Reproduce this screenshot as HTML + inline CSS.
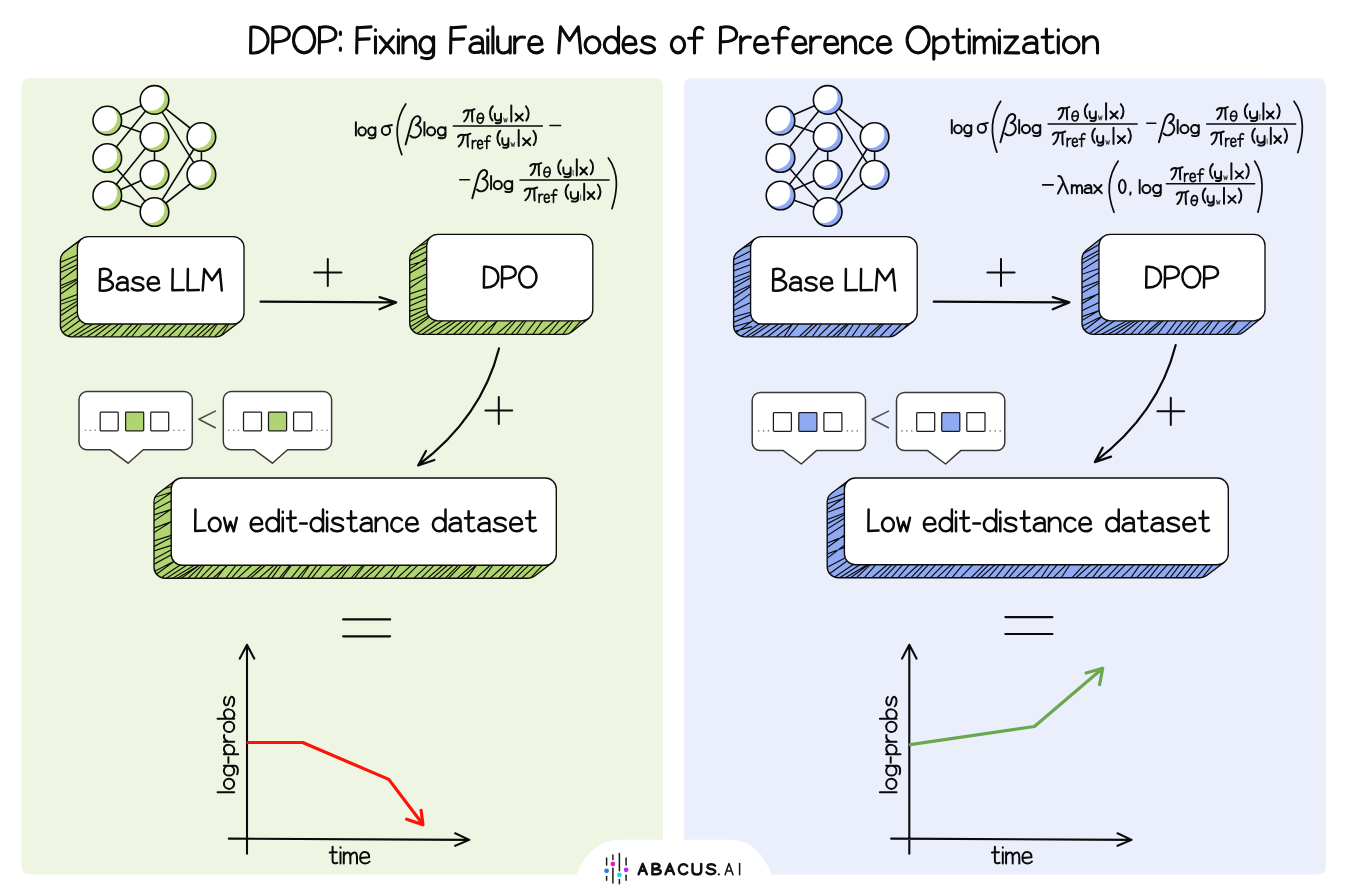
<!DOCTYPE html>
<html><head><meta charset="utf-8"><title>DPOP</title>
<style>html,body{margin:0;padding:0;background:#fff;}svg{display:block;}</style>
</head><body>
<svg width="1347" height="894" viewBox="0 0 1347 894">
<rect width="1347" height="894" fill="#fff"/>
<path d="M250.9,27.2 L250.6,52.9 M250.9,27.2 C260.8,25.9 268.1,31.6 268.1,39.9 C268.1,48.7 260.8,53.7 250.6,52.9 M272.9,27.2 L272.6,52.9 M272.9,27.7 C281.1,25.1 289.3,27.9 289.3,34.2 C289.3,39.9 281.7,42.5 273.3,41.5 M304.1,26.9 C310.0,26.9 314.7,32.7 314.7,39.9 C314.7,47.1 310.0,52.9 304.1,52.9 C298.3,52.9 293.5,47.1 293.5,39.9 C293.5,32.7 298.3,26.9 304.1,26.9 M319.6,27.2 L319.3,52.9 M319.6,27.7 C327.7,25.1 335.9,27.9 335.9,34.2 C335.9,39.9 328.3,42.5 319.9,41.5 M340.4,32.1 L340.4,34.4 M340.4,48.0 L340.4,50.3" fill="none" stroke="#0a0a0a" stroke-width="3.1" stroke-linecap="round" stroke-linejoin="round"/><path d="M357.2,27.2 L356.7,52.9 M357.2,27.7 L371.0,26.9 M356.9,39.4 L369.2,38.9 M375.5,36.8 L375.5,52.9 M375.5,29.8 L375.5,30.5 M380.1,36.8 L393.9,52.9 M393.3,36.8 L380.4,52.9 M398.4,36.8 L398.4,52.9 M398.4,29.8 L398.4,30.5 M403.0,36.8 L403.0,52.9 M403.0,42.5 C405.3,37.8 409.3,36.0 412.2,37.0 C415.0,38.1 415.6,40.9 415.6,45.1 L415.6,52.9 M426.8,36.8 C430.6,36.8 433.6,40.4 433.6,44.8 C433.6,49.3 430.6,52.9 426.8,52.9 C423.0,52.9 419.9,49.3 419.9,44.8 C419.9,40.4 423.0,36.8 426.8,36.8 M433.6,36.8 L433.6,53.4 C433.6,58.1 428.5,59.9 421.6,57.6" fill="none" stroke="#0a0a0a" stroke-width="3.1" stroke-linecap="round" stroke-linejoin="round"/><path d="M451.1,27.2 L450.6,52.9 M451.1,27.7 L465.5,26.9 M450.8,39.4 L463.7,38.9 M471.4,39.1 C474.1,35.7 482.2,35.5 482.5,41.5 L482.5,51.3 L483.4,52.9 M482.5,43.8 C477.1,42.2 469.9,43.3 469.9,48.5 C469.9,53.2 477.1,53.7 482.5,50.6 M487.8,36.8 L487.8,52.9 M487.8,29.8 L487.8,30.5 M492.9,26.9 L492.9,52.9 M497.7,36.8 L497.7,47.2 C497.7,51.9 501.3,53.4 504.6,52.9 C507.8,52.4 510.2,50.3 510.2,46.7 M510.2,36.8 L510.2,52.9 M514.7,36.8 L514.7,52.9 M514.7,43.0 C516.5,38.9 520.1,36.0 524.5,37.3 M529.3,44.8 L541.9,44.1 C541.9,39.4 539.2,36.5 535.3,36.5 C531.1,36.5 528.7,40.4 528.7,45.1 C528.7,49.8 531.7,52.9 536.2,52.9 C538.9,52.9 541.0,51.9 542.5,50.0" fill="none" stroke="#0a0a0a" stroke-width="3.1" stroke-linecap="round" stroke-linejoin="round"/><path d="M558.8,52.9 L560.6,26.9 L569.5,40.4 L578.3,26.9 L580.7,52.9 M592.5,36.8 C596.6,36.8 599.9,40.4 599.9,44.8 C599.9,49.3 596.6,52.9 592.5,52.9 C588.4,52.9 585.1,49.3 585.1,44.8 C585.1,40.4 588.4,36.8 592.5,36.8 M611.4,36.8 C615.3,36.8 618.5,40.4 618.5,44.8 C618.5,49.3 615.3,52.9 611.4,52.9 C607.5,52.9 604.3,49.3 604.3,44.8 C604.3,40.4 607.5,36.8 611.4,36.8 M618.5,26.9 L618.5,52.9 M623.5,44.8 L635.9,44.1 C635.9,39.4 633.3,36.5 629.5,36.5 C625.3,36.5 623.0,40.4 623.0,45.1 C623.0,49.8 625.9,52.9 630.3,52.9 C633.0,52.9 635.1,51.9 636.5,50.0 M654.3,39.4 C652.2,36.3 643.9,35.7 642.4,39.9 C641.6,43.3 645.7,44.1 648.7,44.8 C653.4,45.9 655.7,48.2 654.0,50.8 C651.6,53.9 643.3,53.4 641.0,50.3" fill="none" stroke="#0a0a0a" stroke-width="3.1" stroke-linecap="round" stroke-linejoin="round"/><path d="M678.0,36.8 C681.7,36.8 684.6,40.4 684.6,44.8 C684.6,49.3 681.7,52.9 678.0,52.9 C674.3,52.9 671.3,49.3 671.3,44.8 C671.3,40.4 674.3,36.8 678.0,36.8 M703.0,29.0 C700.3,26.1 694.5,26.6 694.5,33.1 L694.5,52.9 M688.6,38.3 L701.9,37.8" fill="none" stroke="#0a0a0a" stroke-width="3.1" stroke-linecap="round" stroke-linejoin="round"/><path d="M720.6,27.2 L720.3,52.9 M720.6,27.7 C728.6,25.1 736.6,27.9 736.6,34.2 C736.6,39.9 729.2,42.5 720.9,41.5 M740.7,36.8 L740.7,52.9 M740.7,43.0 C742.4,38.9 746.0,36.0 750.4,37.3 M755.1,44.8 L767.5,44.1 C767.5,39.4 764.8,36.5 761.0,36.5 C756.9,36.5 754.5,40.4 754.5,45.1 C754.5,49.8 757.5,52.9 761.9,52.9 C764.5,52.9 766.6,51.9 768.1,50.0 M788.4,29.0 C785.5,26.1 779.0,26.6 779.0,33.1 L779.0,52.9 M772.5,38.3 L787.2,37.8 M793.4,44.8 L805.8,44.1 C805.8,39.4 803.1,36.5 799.3,36.5 C795.2,36.5 792.8,40.4 792.8,45.1 C792.8,49.8 795.8,52.9 800.2,52.9 C802.9,52.9 804.9,51.9 806.4,50.0 M810.8,36.8 L810.8,52.9 M810.8,43.0 C812.6,38.9 816.1,36.0 820.5,37.3 M825.2,44.8 L837.6,44.1 C837.6,39.4 835.0,36.5 831.1,36.5 C827.0,36.5 824.7,40.4 824.7,45.1 C824.7,49.8 827.6,52.9 832.0,52.9 C834.7,52.9 836.7,51.9 838.2,50.0 M842.6,36.8 L842.6,52.9 M842.6,42.5 C845.0,37.8 849.1,36.0 852.1,37.0 C855.0,38.1 855.6,40.9 855.6,45.1 L855.6,52.9 M872.4,39.6 C870.0,36.3 864.1,35.7 861.8,39.9 C859.4,44.1 860.0,49.8 863.5,52.1 C867.1,53.9 871.2,52.9 873.0,50.0 M878.0,44.8 L890.4,44.1 C890.4,39.4 887.7,36.5 883.9,36.5 C879.8,36.5 877.4,40.4 877.4,45.1 C877.4,49.8 880.3,52.9 884.8,52.9 C887.4,52.9 889.5,51.9 891.0,50.0" fill="none" stroke="#0a0a0a" stroke-width="3.1" stroke-linecap="round" stroke-linejoin="round"/><path d="M918.1,26.9 C924.2,26.9 929.1,32.7 929.1,39.9 C929.1,47.1 924.2,52.9 918.1,52.9 C912.1,52.9 907.1,47.1 907.1,39.9 C907.1,32.7 912.1,26.9 918.1,26.9 M933.8,36.8 L933.8,59.1 M933.8,41.5 C936.3,37.6 942.0,35.5 945.7,38.1 C949.5,41.2 948.9,49.3 944.5,51.9 C940.7,53.9 936.3,52.9 933.8,49.5 M957.3,29.0 L957.3,49.3 C957.3,52.4 960.5,53.7 964.6,51.9 M952.9,37.3 L963.6,36.8 M969.3,36.8 L969.3,52.9 M969.3,29.8 L969.3,30.5 M974.3,36.8 L974.3,52.9 M974.3,42.0 C976.2,38.1 979.9,36.0 982.4,37.6 C984.3,39.1 984.3,41.5 984.3,45.1 L984.3,52.9 M984.3,42.0 C986.2,38.1 990.0,36.0 992.5,37.6 C994.4,39.1 994.4,41.5 994.4,45.1 L994.4,52.9 M999.4,36.8 L999.4,52.9 M999.4,29.8 L999.4,30.5 M1004.7,37.0 L1017.6,36.8 L1005.0,52.6 L1018.8,52.9 M1025.1,39.1 C1027.9,35.7 1036.4,35.5 1036.7,41.5 L1036.7,51.3 L1037.6,52.9 M1036.7,43.8 C1031.1,42.2 1023.5,43.3 1023.5,48.5 C1023.5,53.2 1031.1,53.7 1036.7,50.6 M1046.4,29.0 L1046.4,49.3 C1046.4,52.4 1049.6,53.7 1053.6,51.9 M1042.0,37.3 L1052.7,36.8 M1058.3,36.8 L1058.3,52.9 M1058.3,29.8 L1058.3,30.5 M1071.2,36.8 C1075.5,36.8 1079.0,40.4 1079.0,44.8 C1079.0,49.3 1075.5,52.9 1071.2,52.9 C1066.9,52.9 1063.4,49.3 1063.4,44.8 C1063.4,40.4 1066.9,36.8 1071.2,36.8 M1083.7,36.8 L1083.7,52.9 M1083.7,42.5 C1086.3,37.8 1090.6,36.0 1093.8,37.0 C1096.9,38.1 1097.5,40.9 1097.5,45.1 L1097.5,52.9" fill="none" stroke="#0a0a0a" stroke-width="3.1" stroke-linecap="round" stroke-linejoin="round"/>
<rect x="21.5" y="78.3" width="641.5" height="796.2" rx="7" fill="#eef6e3"/>
<rect x="684" y="78.3" width="641.8" height="796.2" rx="7" fill="#ebeffc"/>
<g transform="translate(0,0)"><path d="M107.3,120.6L154.5,99.9 M107.3,120.6L154.5,137.0 M107.3,158.0L154.5,99.9 M107.3,158.0L154.5,212.0 M107.3,195.5L154.5,137.0 M107.3,195.5L154.5,174.8 M107.3,195.5L154.5,212.0 M154.5,99.9L201.4,137.0 M154.5,99.9L201.4,174.8 M154.5,137.0L154.5,174.8 M154.5,212.0L201.4,137.0 M154.5,212.0L201.4,174.8 M201.4,137.0L201.4,174.8" stroke="#0a0a0a" stroke-width="1.6" fill="none"/><circle cx="107.3" cy="120.6" r="14.3" fill="#fff"/><path d="M111.74,107.01 A14.3,14.3 0 1 1 95.71,128.98 A13.600000000000001,13.600000000000001 0 0 0 111.74,107.01 Z" fill="#b0d46f"/><circle cx="107.3" cy="120.6" r="14.3" fill="none" stroke="#0a0a0a" stroke-width="1.6"/><circle cx="107.3" cy="158.0" r="14.3" fill="#fff"/><path d="M111.74,144.41 A14.3,14.3 0 1 1 95.71,166.38 A13.600000000000001,13.600000000000001 0 0 0 111.74,144.41 Z" fill="#b0d46f"/><circle cx="107.3" cy="158.0" r="14.3" fill="none" stroke="#0a0a0a" stroke-width="1.6"/><circle cx="107.3" cy="195.5" r="14.3" fill="#fff"/><path d="M111.74,181.91 A14.3,14.3 0 1 1 95.71,203.88 A13.600000000000001,13.600000000000001 0 0 0 111.74,181.91 Z" fill="#b0d46f"/><circle cx="107.3" cy="195.5" r="14.3" fill="none" stroke="#0a0a0a" stroke-width="1.6"/><circle cx="154.5" cy="99.9" r="14.3" fill="#fff"/><path d="M158.94,86.31 A14.3,14.3 0 1 1 142.91,108.28 A13.600000000000001,13.600000000000001 0 0 0 158.94,86.31 Z" fill="#b0d46f"/><circle cx="154.5" cy="99.9" r="14.3" fill="none" stroke="#0a0a0a" stroke-width="1.6"/><circle cx="154.5" cy="137.0" r="14.3" fill="#fff"/><path d="M158.94,123.41 A14.3,14.3 0 1 1 142.91,145.38 A13.600000000000001,13.600000000000001 0 0 0 158.94,123.41 Z" fill="#b0d46f"/><circle cx="154.5" cy="137.0" r="14.3" fill="none" stroke="#0a0a0a" stroke-width="1.6"/><circle cx="154.5" cy="174.8" r="14.3" fill="#fff"/><path d="M158.94,161.21 A14.3,14.3 0 1 1 142.91,183.18 A13.600000000000001,13.600000000000001 0 0 0 158.94,161.21 Z" fill="#b0d46f"/><circle cx="154.5" cy="174.8" r="14.3" fill="none" stroke="#0a0a0a" stroke-width="1.6"/><circle cx="154.5" cy="212.0" r="14.3" fill="#fff"/><path d="M158.94,198.41 A14.3,14.3 0 1 1 142.91,220.38 A13.600000000000001,13.600000000000001 0 0 0 158.94,198.41 Z" fill="#b0d46f"/><circle cx="154.5" cy="212.0" r="14.3" fill="none" stroke="#0a0a0a" stroke-width="1.6"/><circle cx="201.4" cy="137.0" r="14.3" fill="#fff"/><path d="M205.84,123.41 A14.3,14.3 0 1 1 189.81,145.38 A13.600000000000001,13.600000000000001 0 0 0 205.84,123.41 Z" fill="#b0d46f"/><circle cx="201.4" cy="137.0" r="14.3" fill="none" stroke="#0a0a0a" stroke-width="1.6"/><circle cx="201.4" cy="174.8" r="14.3" fill="#fff"/><path d="M205.84,161.21 A14.3,14.3 0 1 1 189.81,183.18 A13.600000000000001,13.600000000000001 0 0 0 205.84,161.21 Z" fill="#b0d46f"/><circle cx="201.4" cy="174.8" r="14.3" fill="none" stroke="#0a0a0a" stroke-width="1.6"/></g><clipPath id="c2"><path d="M81.78,238.81 L64.78,251.61 A11,11 0 0 0 60.40,260.40 L60.40,325.80 A11,11 0 0 0 71.40,336.80 L216.00,336.80 A11,11 0 0 0 222.62,334.59 L239.62,321.79 L233.00,313.00 L88.40,247.60 Z"/></clipPath><path d="M81.78,238.81 L64.78,251.61 A11,11 0 0 0 60.40,260.40 L60.40,325.80 A11,11 0 0 0 71.40,336.80 L216.00,336.80 A11,11 0 0 0 222.62,334.59 L239.62,321.79 L233.00,313.00 L88.40,247.60 Z" fill="#b0d46f" stroke="#0a0a0a" stroke-width="1.35" stroke-linejoin="round"/><path d="M59.4,252.3L78.4,238.3 M59.4,254.6L78.4,241.7 M59.4,262.7L78.4,254.7 M59.4,268.9L78.4,258.4 M59.4,273.0L78.4,264.2 M59.4,281.0L78.4,267.0 M59.4,286.0L78.4,278.3 M59.4,289.1L78.4,279.6 M59.4,294.9L78.4,281.5 M59.4,301.3L78.4,294.0 M59.4,304.7L78.4,298.3 M59.4,312.0L78.4,300.6 M59.4,316.4L78.4,303.8 M59.4,323.3L78.4,311.0 M59.4,329.3L78.4,315.0 M61.4,333.8L80.4,320.0 M65.4,337.8L87.4,323.0 M71.4,337.8L94.4,323.0 M76.7,337.8L103.6,323.0 M85.4,337.8L107.7,323.0 M93.3,337.8L112.5,323.0 M100.8,337.8L120.1,323.0 M110.0,337.8L124.0,323.0 M119.6,337.8L133.0,323.0 M124.4,337.8L139.4,323.0 M130.9,337.8L142.6,323.0 M138.8,337.8L155.8,323.0 M147.2,337.8L160.8,323.0 M155.1,337.8L167.1,323.0 M160.5,337.8L177.3,323.0 M167.3,337.8L183.2,323.0 M177.1,337.8L188.1,323.0 M183.6,337.8L198.2,323.0 M189.8,337.8L206.1,323.0 M195.4,337.8L211.6,323.0 M200.5,337.8L216.9,323.0 M208.1,337.8L218.0,323.0 M213.4,337.8L228.1,323.0 M219.8,337.8L229.6,323.0 M226.1,337.8L237.7,323.0" stroke="#0a0a0a" stroke-width="1.15" fill="none" stroke-linecap="round" clip-path="url(#c2)"/><rect x="77.4" y="236.6" width="166.6" height="87.4" rx="11" fill="#fff" stroke="#0a0a0a" stroke-width="1.35"/><path d="M100.1,269.2 L99.8,290.5 M100.1,269.6 C104.9,267.5 111.0,269.2 111.0,273.5 C111.0,277.2 105.9,279.1 100.9,279.5 C107.4,279.3 113.0,281.5 113.0,285.1 C113.0,289.6 106.9,291.1 99.8,290.5 M118.1,279.1 C120.4,276.3 127.2,276.1 127.4,281.0 L127.4,289.2 L128.2,290.5 M127.4,283.0 C122.9,281.7 116.8,282.5 116.8,286.8 C116.8,290.7 122.9,291.1 127.4,288.6 M143.1,279.3 C141.4,276.7 134.3,276.3 133.0,279.8 C132.3,282.5 135.8,283.2 138.3,283.8 C142.4,284.7 144.4,286.6 142.9,288.8 C140.9,291.4 133.8,290.9 131.8,288.4 M148.2,283.8 L158.8,283.2 C158.8,279.3 156.6,277.0 153.3,277.0 C149.7,277.0 147.7,280.2 147.7,284.1 C147.7,287.9 150.2,290.5 154.0,290.5 C156.3,290.5 158.1,289.6 159.3,288.1" fill="none" stroke="#0a0a0a" stroke-width="2.5" stroke-linecap="round" stroke-linejoin="round"/><path d="M172.7,269.0 L172.4,290.3 L183.7,289.9 M187.9,269.0 L187.6,290.3 L198.9,289.9 M202.7,290.5 L204.3,269.0 L212.0,280.2 L219.7,269.0 L221.8,290.5" fill="none" stroke="#0a0a0a" stroke-width="2.5" stroke-linecap="round" stroke-linejoin="round"/><path d="M260.6,301.7 L395.6,302.4 M379.6,297.2 L396.1,302.4 L379.6,309.2" stroke="#0a0a0a" stroke-width="2.3" fill="none" stroke-linecap="round" stroke-linejoin="round"/><path d="M314.2,272.6L341.40000000000003,272.6M327.8,259.1L327.8,286.1" stroke="#0a0a0a" stroke-width="2.0" stroke-linecap="round" fill="none"/><path d="M499,348.4 C488,392 462,432 418.5,465 M426,451 L418.1,465.5 L434.4,460" stroke="#0a0a0a" stroke-width="2.2" fill="none" stroke-linecap="round" stroke-linejoin="round"/><path d="M485.40000000000003,410.5L512.2,410.5M498.8,396.9L498.8,424.1" stroke="#0a0a0a" stroke-width="2.0" stroke-linecap="round" fill="none"/><path d="M87,391.6 L184.3,391.6 A8,8 0 0 1 192.3,399.6 L192.3,441.8 A8,8 0 0 1 184.3,449.8 L143.2,449.8 L128.1,463.2 L110.1,449.8 L87,449.8 A8,8 0 0 1 79,441.8 L79,399.6 A8,8 0 0 1 87,391.6 Z" fill="#fff" stroke="#383838" stroke-width="1.5" stroke-linejoin="round"/><rect x="100.2" y="412.1" width="18.0" height="18.7" rx="0.8" fill="#fff" stroke="#1c1c1c" stroke-width="1.25"/><rect x="125.6" y="412.1" width="18.1" height="18.7" rx="0.8" fill="#b0d46f" stroke="#1c1c1c" stroke-width="1.25"/><rect x="150.7" y="412.1" width="18.0" height="18.7" rx="0.8" fill="#fff" stroke="#1c1c1c" stroke-width="1.25"/><circle cx="85.5" cy="430.3" r="0.8" fill="#777"/><circle cx="90.3" cy="430.3" r="0.8" fill="#777"/><circle cx="95.2" cy="430.3" r="0.8" fill="#777"/><circle cx="174.0" cy="430.3" r="0.8" fill="#777"/><circle cx="179.0" cy="430.3" r="0.8" fill="#777"/><circle cx="184.0" cy="430.3" r="0.8" fill="#777"/><path d="M231.3,391.6 L323.6,391.6 A8,8 0 0 1 331.6,399.6 L331.6,441.8 A8,8 0 0 1 323.6,449.8 L287.5,449.8 L272.4,463.2 L254.4,449.8 L231.3,449.8 A8,8 0 0 1 223.3,441.8 L223.3,399.6 A8,8 0 0 1 231.3,391.6 Z" fill="#fff" stroke="#383838" stroke-width="1.5" stroke-linejoin="round"/><rect x="243.5" y="412.1" width="18.0" height="18.7" rx="0.8" fill="#fff" stroke="#1c1c1c" stroke-width="1.25"/><rect x="268.5" y="412.1" width="18.1" height="18.7" rx="0.8" fill="#b0d46f" stroke="#1c1c1c" stroke-width="1.25"/><rect x="293.6" y="412.1" width="18.2" height="18.7" rx="0.8" fill="#fff" stroke="#1c1c1c" stroke-width="1.25"/><circle cx="228.8" cy="430.3" r="0.8" fill="#777"/><circle cx="233.7" cy="430.3" r="0.8" fill="#777"/><circle cx="238.6" cy="430.3" r="0.8" fill="#777"/><circle cx="317.0" cy="430.3" r="0.8" fill="#777"/><circle cx="322.0" cy="430.3" r="0.8" fill="#777"/><circle cx="327.0" cy="430.3" r="0.8" fill="#777"/><path d="M215.3,411.1 L198.9,419.2 L215.3,427.7" stroke="#47523c" stroke-width="1.6" fill="none" stroke-linecap="round" stroke-linejoin="round"/><clipPath id="c4"><path d="M175.57,480.22 L158.37,493.22 A11,11 0 0 0 154.00,502.00 L154.00,567.20 A11,11 0 0 0 165.00,578.20 L528.10,578.20 A11,11 0 0 0 534.73,575.98 L551.93,562.98 L545.30,554.20 L182.20,489.00 Z"/></clipPath><path d="M175.57,480.22 L158.37,493.22 A11,11 0 0 0 154.00,502.00 L154.00,567.20 A11,11 0 0 0 165.00,578.20 L528.10,578.20 A11,11 0 0 0 534.73,575.98 L551.93,562.98 L545.30,554.20 L182.20,489.00 Z" fill="#b0d46f" stroke="#0a0a0a" stroke-width="1.35" stroke-linejoin="round"/><path d="M153.0,492.5L172.2,486.3 M153.0,497.8L172.2,492.0 M153.0,504.8L172.2,492.1 M153.0,510.4L172.2,500.2 M153.0,515.3L172.2,509.1 M153.0,521.5L172.2,508.5 M153.0,528.4L172.2,521.4 M153.0,533.2L172.2,521.1 M153.0,541.1L172.2,535.1 M153.0,547.0L172.2,537.0 M153.0,551.1L172.2,545.1 M153.0,559.7L172.2,549.3 M153.0,564.8L172.2,554.2 M153.0,572.2L172.2,562.2 M155.0,575.2L174.2,561.2 M159.0,579.2L181.2,564.2 M165.0,579.2L188.2,564.2 M171.2,579.2L196.0,564.2 M175.9,579.2L200.8,564.2 M180.1,579.2L200.6,564.2 M187.0,579.2L203.3,564.2 M194.1,579.2L205.4,564.2 M199.1,579.2L213.8,564.2 M205.3,579.2L220.9,564.2 M211.8,579.2L228.6,564.2 M215.8,579.2L227.4,564.2 M225.2,579.2L236.9,564.2 M230.5,579.2L243.9,564.2 M236.3,579.2L253.0,564.2 M245.6,579.2L262.9,564.2 M249.3,579.2L266.6,564.2 M257.9,579.2L275.1,564.2 M266.4,579.2L278.4,564.2 M271.1,579.2L281.9,564.2 M278.5,579.2L290.9,564.2 M281.2,579.2L292.3,564.2 M290.3,579.2L302.3,564.2 M296.5,579.2L309.6,564.2 M300.2,579.2L310.4,564.2 M306.8,579.2L317.7,564.2 M311.1,579.2L322.8,564.2 M319.9,579.2L333.7,564.2 M328.8,579.2L346.3,564.2 M335.4,579.2L348.3,564.2 M340.4,579.2L352.1,564.2 M350.2,579.2L363.8,564.2 M353.7,579.2L365.3,564.2 M359.2,579.2L375.7,564.2 M364.0,579.2L381.0,564.2 M373.2,579.2L386.1,564.2 M381.6,579.2L397.5,564.2 M389.5,579.2L399.9,564.2 M395.8,579.2L412.5,564.2 M403.8,579.2L418.7,564.2 M412.9,579.2L429.0,564.2 M420.1,579.2L435.2,564.2 M426.5,579.2L443.7,564.2 M431.4,579.2L448.7,564.2 M437.4,579.2L454.2,564.2 M444.4,579.2L459.4,564.2 M447.6,579.2L462.3,564.2 M456.1,579.2L473.1,564.2 M460.2,579.2L477.2,564.2 M466.5,579.2L477.2,564.2 M474.9,579.2L491.5,564.2 M482.3,579.2L493.7,564.2 M489.1,579.2L505.8,564.2 M497.8,579.2L511.6,564.2 M501.5,579.2L515.9,564.2 M510.1,579.2L524.6,564.2 M514.3,579.2L530.0,564.2 M520.7,579.2L537.0,564.2 M529.5,579.2L543.5,564.2 M537.3,579.2L549.5,564.2" stroke="#0a0a0a" stroke-width="1.15" fill="none" stroke-linecap="round" clip-path="url(#c4)"/><rect x="171.2" y="478" width="385.09999999999997" height="87.20000000000005" rx="11" fill="#fff" stroke="#0a0a0a" stroke-width="1.35"/><path d="M195.4,509.4 L195.2,531.1 L205.4,530.6 M214.8,517.7 C218.0,517.7 220.6,520.8 220.6,524.5 C220.6,528.3 218.0,531.3 214.8,531.3 C211.6,531.3 208.9,528.3 208.9,524.5 C208.9,520.8 211.6,517.7 214.8,517.7 M224.1,517.7 L227.2,531.3 L230.4,521.7 L233.7,531.3 L236.8,517.7" fill="none" stroke="#0a0a0a" stroke-width="2.5" stroke-linecap="round" stroke-linejoin="round"/><path d="M251.2,524.5 L262.0,523.9 C262.0,519.9 259.7,517.5 256.3,517.5 C252.7,517.5 250.7,520.8 250.7,524.7 C250.7,528.7 253.2,531.3 257.1,531.3 C259.4,531.3 261.2,530.4 262.5,528.9 M272.5,517.7 C276.0,517.7 278.7,520.8 278.7,524.5 C278.7,528.3 276.0,531.3 272.5,531.3 C269.1,531.3 266.4,528.3 266.4,524.5 C266.4,520.8 269.1,517.7 272.5,517.7 M278.7,509.4 L278.7,531.3 M282.8,517.7 L282.8,531.3 M282.8,511.8 L282.8,512.5 M290.6,511.2 L290.6,528.2 C290.6,530.9 293.1,532.0 296.5,530.4 M287.0,518.2 L295.7,517.7 M300.1,523.6 L306.8,523.6 M316.8,517.7 C320.3,517.7 323.0,520.8 323.0,524.5 C323.0,528.3 320.3,531.3 316.8,531.3 C313.4,531.3 310.7,528.3 310.7,524.5 C310.7,520.8 313.4,517.7 316.8,517.7 M323.0,509.4 L323.0,531.3 M327.1,517.7 L327.1,531.3 M327.1,511.8 L327.1,512.5 M342.8,519.9 C341.0,517.3 333.8,516.8 332.5,520.3 C331.8,523.2 335.4,523.9 338.0,524.5 C342.1,525.4 344.1,527.4 342.6,529.5 C340.5,532.2 333.3,531.7 331.3,529.1 M351.1,511.2 L351.1,528.2 C351.1,530.9 353.7,532.0 357.0,530.4 M347.5,518.2 L356.2,517.7 M361.9,519.7 C364.2,516.8 371.2,516.6 371.4,521.7 L371.4,530.0 L372.2,531.3 M371.4,523.6 C366.8,522.3 360.6,523.2 360.6,527.6 C360.6,531.5 366.8,532.0 371.4,529.3 M375.8,517.7 L375.8,531.3 M375.8,522.5 C377.9,518.6 381.5,517.1 384.1,517.9 C386.6,518.8 387.1,521.2 387.1,524.7 L387.1,531.3 M401.8,520.1 C399.8,517.3 394.6,516.8 392.6,520.3 C390.5,523.9 391.0,528.7 394.1,530.6 C397.2,532.2 400.8,531.3 402.3,528.9 M406.7,524.5 L417.5,523.9 C417.5,519.9 415.2,517.5 411.9,517.5 C408.3,517.5 406.2,520.8 406.2,524.7 C406.2,528.7 408.8,531.3 412.6,531.3 C415.0,531.3 416.8,530.4 418.1,528.9" fill="none" stroke="#0a0a0a" stroke-width="2.5" stroke-linecap="round" stroke-linejoin="round"/><path d="M439.2,517.7 C442.7,517.7 445.5,520.8 445.5,524.5 C445.5,528.3 442.7,531.3 439.2,531.3 C435.8,531.3 432.9,528.3 432.9,524.5 C432.9,520.8 435.8,517.7 439.2,517.7 M445.5,509.4 L445.5,531.3 M450.8,519.7 C453.1,516.8 460.2,516.6 460.5,521.7 L460.5,530.0 L461.2,531.3 M460.5,523.6 C455.7,522.3 449.5,523.2 449.5,527.6 C449.5,531.5 455.7,532.0 460.5,529.3 M468.6,511.2 L468.6,528.2 C468.6,530.9 471.2,532.0 474.6,530.4 M464.9,518.2 L473.8,517.7 M479.6,519.7 C481.9,516.8 489.0,516.6 489.3,521.7 L489.3,530.0 L490.1,531.3 M489.3,523.6 C484.6,522.3 478.3,523.2 478.3,527.6 C478.3,531.5 484.6,532.0 489.3,529.3 M505.5,519.9 C503.7,517.3 496.4,516.8 495.0,520.3 C494.3,523.2 497.9,523.9 500.5,524.5 C504.7,525.4 506.8,527.4 505.3,529.5 C503.2,532.2 495.8,531.7 493.7,529.1 M510.8,524.5 L521.8,523.9 C521.8,519.9 519.4,517.5 516.0,517.5 C512.3,517.5 510.2,520.8 510.2,524.7 C510.2,528.7 512.9,531.3 516.8,531.3 C519.1,531.3 521.0,530.4 522.3,528.9 M529.9,511.2 L529.9,528.2 C529.9,530.9 532.5,532.0 535.9,530.4 M526.2,518.2 L535.1,517.7" fill="none" stroke="#0a0a0a" stroke-width="2.5" stroke-linecap="round" stroke-linejoin="round"/>
<clipPath id="c7"><path d="M430.86,236.79 L413.86,250.29 A11,11 0 0 0 409.70,258.90 L409.70,323.30 A11,11 0 0 0 420.70,334.30 L564.80,334.30 A11,11 0 0 0 571.64,331.91 L588.64,318.41 L581.80,309.80 L437.70,245.40 Z"/></clipPath><path d="M430.86,236.79 L413.86,250.29 A11,11 0 0 0 409.70,258.90 L409.70,323.30 A11,11 0 0 0 420.70,334.30 L564.80,334.30 A11,11 0 0 0 571.64,331.91 L588.64,318.41 L581.80,309.80 L437.70,245.40 Z" fill="#b0d46f" stroke="#0a0a0a" stroke-width="1.35" stroke-linejoin="round"/><path d="M408.7,249.5L427.7,243.0 M408.7,255.6L427.7,245.5 M408.7,260.9L427.7,251.0 M408.7,265.6L427.7,259.8 M408.7,269.8L427.7,256.9 M408.7,273.7L427.7,262.7 M408.7,282.2L427.7,273.4 M408.7,289.0L427.7,275.9 M408.7,294.2L427.7,288.0 M408.7,300.7L427.7,293.9 M408.7,306.5L427.7,298.0 M408.7,311.5L427.7,305.8 M408.7,317.4L427.7,308.3 M408.7,322.3L427.7,313.0 M408.7,327.8L427.7,316.2 M410.7,331.3L429.7,316.8 M414.7,335.3L436.7,319.8 M420.7,335.3L443.7,319.8 M426.8,335.3L453.4,319.8 M436.0,335.3L457.6,319.8 M444.2,335.3L463.8,319.8 M452.6,335.3L469.7,319.8 M458.3,335.3L474.6,319.8 M466.1,335.3L478.7,319.8 M473.5,335.3L488.3,319.8 M480.8,335.3L498.5,319.8 M487.3,335.3L497.9,319.8 M495.3,335.3L513.4,319.8 M503.1,335.3L516.4,319.8 M510.5,335.3L524.3,319.8 M516.0,335.3L526.6,319.8 M524.4,335.3L536.5,319.8 M532.3,335.3L543.1,319.8 M538.4,335.3L555.7,319.8 M547.6,335.3L560.0,319.8 M553.2,335.3L570.5,319.8 M562.1,335.3L573.6,319.8 M567.9,335.3L581.9,319.8 M575.4,335.3L585.5,319.8" stroke="#0a0a0a" stroke-width="1.15" fill="none" stroke-linecap="round" clip-path="url(#c7)"/><rect x="426.7" y="234.4" width="166.09999999999997" height="86.4" rx="11" fill="#fff" stroke="#0a0a0a" stroke-width="1.35"/>
<path d="M484.1,266.8 L483.9,287.5 M484.1,266.8 C492.3,265.8 498.3,270.4 498.3,277.1 C498.3,284.2 492.3,288.1 483.9,287.5 M502.2,266.8 L502.0,287.5 M502.2,267.2 C509.0,265.1 515.7,267.4 515.7,272.5 C515.7,277.1 509.5,279.1 502.5,278.3 M527.8,266.6 C532.7,266.6 536.5,271.3 536.5,277.1 C536.5,282.8 532.7,287.5 527.8,287.5 C523.0,287.5 519.1,282.8 519.1,277.1 C519.1,271.3 523.0,266.6 527.8,266.6" fill="none" stroke="#0a0a0a" stroke-width="2.5" stroke-linecap="round" stroke-linejoin="round"/>
<path d="M343.1,619.4L390.1,619.4M343.1,636.3L390.1,636.3" stroke="#0a0a0a" stroke-width="2.2" stroke-linecap="round"/><path d="M247,853.7 L247,645.2 M239.8,658.6 L247,644.8 L254.2,658.6 M228.8,838.6 L468.8,839.9 M455.2,833.3 L469.3,839.9 L455.2,845.8" stroke="#0a0a0a" stroke-width="2.1" fill="none" stroke-linecap="round" stroke-linejoin="round"/><path d="M332.6,846.8 L332.6,861.0 C332.6,863.1 334.7,864.0 337.3,862.8 M329.7,852.6 L336.7,852.2 M340.5,852.2 L340.5,863.5 M340.5,847.3 L340.5,847.8 M343.8,852.2 L343.8,863.5 M343.8,855.9 C345.0,853.1 347.5,851.7 349.1,852.8 C350.4,853.9 350.4,855.5 350.4,858.0 L350.4,863.5 M350.4,855.9 C351.6,853.1 354.1,851.7 355.7,852.8 C357.0,853.9 357.0,855.5 357.0,858.0 L357.0,863.5 M360.5,857.9 L369.2,857.3 C369.2,854.0 367.3,852.0 364.6,852.0 C361.7,852.0 360.1,854.8 360.1,858.0 C360.1,861.3 362.2,863.5 365.3,863.5 C367.1,863.5 368.6,862.8 369.6,861.5" fill="none" stroke="#0a0a0a" stroke-width="2.0" stroke-linecap="round" stroke-linejoin="round"/><g transform="translate(234.2,793.4) rotate(-90)"><path d="M1.2,-16.6 L1.2,0.0 M9.6,-10.3 C12.4,-10.3 14.7,-8.0 14.7,-5.1 C14.7,-2.3 12.4,0.0 9.6,0.0 C6.8,0.0 4.5,-2.3 4.5,-5.1 C4.5,-8.0 6.8,-10.3 9.6,-10.3 M22.7,-10.3 C25.5,-10.3 27.7,-8.0 27.7,-5.1 C27.7,-2.3 25.5,0.0 22.7,0.0 C20.0,0.0 17.8,-2.3 17.8,-5.1 C17.8,-8.0 20.0,-10.3 22.7,-10.3 M27.7,-10.3 L27.7,0.3 C27.7,3.3 24.0,4.5 19.1,3.0 M30.7,-5.8 L36.1,-5.8 M39.2,-10.3 L39.2,4.0 M39.2,-7.3 C40.8,-9.8 44.5,-11.1 46.9,-9.5 C49.4,-7.5 49.0,-2.3 46.1,-0.7 C43.7,0.7 40.8,0.0 39.2,-2.2 M51.7,-10.3 L51.7,0.0 M51.7,-6.3 C52.9,-9.0 55.4,-10.8 58.4,-10.0 M66.4,-10.3 C69.3,-10.3 71.6,-8.0 71.6,-5.1 C71.6,-2.3 69.3,0.0 66.4,0.0 C63.6,0.0 61.3,-2.3 61.3,-5.1 C61.3,-8.0 63.6,-10.3 66.4,-10.3 M74.6,-16.6 L74.6,0.0 M74.6,-7.3 C76.3,-9.8 80.0,-11.1 82.4,-9.5 C84.9,-7.5 84.5,-2.3 81.6,-0.7 C79.2,0.7 76.3,0.0 74.6,-2.2 M96.4,-8.6 C94.9,-10.6 89.2,-11.0 88.2,-8.3 C87.6,-6.1 90.4,-5.6 92.5,-5.1 C95.8,-4.5 97.4,-3.0 96.2,-1.3 C94.5,0.7 88.8,0.3 87.2,-1.7" fill="none" stroke="#0a0a0a" stroke-width="2.0" stroke-linecap="round" stroke-linejoin="round"/></g>
<path d="M248,742.5 L302.7,742.5 L388.8,779.4 L422.6,824 M406.7,819.2 L423,824.8 L421.1,810.4" stroke="#ff1208" stroke-width="3.2" fill="none" stroke-linecap="round" stroke-linejoin="round"/>
<path d="M355.9,122.1 L355.9,135.4 M362.1,127.2 C364.2,127.2 365.9,129.0 365.9,131.3 C365.9,133.6 364.2,135.4 362.1,135.4 C360.0,135.4 358.3,133.6 358.3,131.3 C358.3,129.0 360.0,127.2 362.1,127.2 M371.8,127.2 C373.8,127.2 375.4,129.0 375.4,131.3 C375.4,133.6 373.8,135.4 371.8,135.4 C369.8,135.4 368.2,133.6 368.2,131.3 C368.2,129.0 369.8,127.2 371.8,127.2 M375.4,127.2 L375.4,135.7 C375.4,138.1 372.7,139.0 369.1,137.8" fill="none" stroke="#0a0a0a" stroke-width="1.95" stroke-linecap="round" stroke-linejoin="round"/><path d="M385.9,126.0 C388.2,126.0 390.1,128.0 390.1,130.4 C390.1,132.9 388.2,134.9 385.9,134.9 C383.6,134.9 381.8,132.9 381.8,130.4 C381.8,128.0 383.6,126.0 385.9,126.0 M385.9,126.0 C388.3,125.8 390.1,125.7 391.9,125.0" fill="none" stroke="#0a0a0a" stroke-width="1.95" stroke-linecap="round" stroke-linejoin="round"/>
<path d="M405.8,104 C393.9,121.71 395.9,139.42 401.795,154.6" stroke="#0a0a0a" stroke-width="1.7" fill="none" stroke-linecap="round"/>
<path d="M405.6,144.5 L411.1,124.3 C412.4,118.1 415.9,115.5 418.4,116.3 C421.4,117.4 421.4,122.9 415.9,125.1 C420.6,125.6 422.3,130.0 420.1,133.9 C418.0,137.9 413.3,138.8 410.3,135.7" fill="none" stroke="#0a0a0a" stroke-width="1.95" stroke-linecap="round" stroke-linejoin="round"/><path d="M424.4,122.1 L424.4,135.4 M431.1,127.2 C433.4,127.2 435.2,129.0 435.2,131.3 C435.2,133.6 433.4,135.4 431.1,135.4 C428.9,135.4 427.1,133.6 427.1,131.3 C427.1,129.0 428.9,127.2 431.1,127.2 M441.6,127.2 C443.8,127.2 445.5,129.0 445.5,131.3 C445.5,133.6 443.8,135.4 441.6,135.4 C439.4,135.4 437.7,133.6 437.7,131.3 C437.7,129.0 439.4,127.2 441.6,127.2 M445.5,127.2 L445.5,135.7 C445.5,138.1 442.6,139.0 438.7,137.8" fill="none" stroke="#0a0a0a" stroke-width="1.95" stroke-linecap="round" stroke-linejoin="round"/><path d="M453.3,126.1L542.4,126.1" stroke="#0a0a0a" stroke-width="1.5" stroke-linecap="round"/><path d="M463.6,112.3 C464.5,110.3 466.2,109.9 468.7,110.3 C470.9,110.8 472.9,110.1 474.6,109.2 M468.7,110.3 C468.4,115.0 466.9,119.0 464.2,121.3 M472.2,110.2 C472.0,115.0 472.0,118.4 472.4,121.5" fill="none" stroke="#0a0a0a" stroke-width="1.95" stroke-linecap="round" stroke-linejoin="round"/><path d="M480.6,113.4 C482.6,113.1 483.9,115.6 483.4,118.7 C482.9,121.7 481.4,123.5 479.8,123.2 C477.8,122.9 476.8,120.4 477.3,117.7 C477.8,114.9 479.1,113.4 480.6,113.4 M477.4,118.4 L483.5,117.9" fill="none" stroke="#0a0a0a" stroke-width="1.6" stroke-linecap="round" stroke-linejoin="round"/><path d="M492.8,106.3 C489.1,110.0 489.1,116.7 492.5,120.5" fill="none" stroke="#0a0a0a" stroke-width="1.95" stroke-linecap="round" stroke-linejoin="round"/><path d="M494.9,113.7 L494.9,117.5 C494.9,119.8 496.6,120.7 498.2,120.5 C499.9,120.2 501.0,119.3 501.0,117.8 M501.0,113.7 L501.0,121.2 C501.0,123.0 499.0,123.8 495.8,123.0" fill="none" stroke="#0a0a0a" stroke-width="1.95" stroke-linecap="round" stroke-linejoin="round"/><path d="M503.8,118.0 L504.6,122.0 L505.5,119.1 L506.4,122.0 L507.2,118.0" fill="none" stroke="#444" stroke-width="1.1" stroke-linecap="round" stroke-linejoin="round"/><path d="M511.3,105.5L511.3,121.6" stroke="#0a0a0a" stroke-width="1.95" stroke-linecap="round"/><path d="M515.6,113.7 L523.0,120.7 M522.7,113.7 L515.7,120.7" fill="none" stroke="#0a0a0a" stroke-width="1.95" stroke-linecap="round" stroke-linejoin="round"/><path d="M526.0,106.3 C529.5,110.0 529.5,116.7 526.3,120.5" fill="none" stroke="#0a0a0a" stroke-width="1.95" stroke-linecap="round" stroke-linejoin="round"/><path d="M458.0,137.0 C459.0,134.9 461.0,134.4 463.7,134.9 C466.3,135.3 468.5,134.6 470.5,133.7 M463.7,134.9 C463.5,139.9 461.7,144.1 458.7,146.5 M467.8,134.7 C467.5,139.9 467.5,143.5 468.0,146.7" fill="none" stroke="#0a0a0a" stroke-width="1.95" stroke-linecap="round" stroke-linejoin="round"/><path d="M472.4,140.5 L472.4,148.6 M472.4,143.7 C473.1,141.6 474.4,140.2 476.1,140.8 M477.8,144.6 L482.5,144.2 C482.5,141.8 481.5,140.4 480.1,140.4 C478.5,140.4 477.6,142.4 477.6,144.7 C477.6,147.0 478.7,148.6 480.4,148.6 C481.4,148.6 482.2,148.1 482.7,147.2 M490.4,136.6 C489.3,135.2 486.8,135.5 486.8,138.7 L486.8,148.6 M484.4,141.3 L490.0,141.1" fill="none" stroke="#0a0a0a" stroke-width="1.6" stroke-linecap="round" stroke-linejoin="round"/><path d="M500.2,130.8 C496.5,134.5 496.5,141.2 499.9,145.0" fill="none" stroke="#0a0a0a" stroke-width="1.95" stroke-linecap="round" stroke-linejoin="round"/><path d="M502.3,138.2 L502.3,142.0 C502.3,144.3 504.0,145.2 505.6,145.0 C507.3,144.7 508.4,143.8 508.4,142.3 M508.4,138.2 L508.4,145.7 C508.4,147.5 506.4,148.3 503.2,147.5" fill="none" stroke="#0a0a0a" stroke-width="1.95" stroke-linecap="round" stroke-linejoin="round"/><path d="M511.1,142.5 L512.0,146.5 L512.9,143.6 L513.8,146.5 L514.6,142.5" fill="none" stroke="#444" stroke-width="1.1" stroke-linecap="round" stroke-linejoin="round"/><path d="M518.7,130.0L518.7,146.1" stroke="#0a0a0a" stroke-width="1.95" stroke-linecap="round"/><path d="M523.0,138.2 L530.4,145.2 M530.1,138.2 L523.1,145.2" fill="none" stroke="#0a0a0a" stroke-width="1.95" stroke-linecap="round" stroke-linejoin="round"/><path d="M533.4,130.8 C536.9,134.5 536.9,141.2 533.7,145.0" fill="none" stroke="#0a0a0a" stroke-width="1.95" stroke-linecap="round" stroke-linejoin="round"/>
<path d="M550,125.5L560.6,125.5" stroke="#0a0a0a" stroke-width="1.6" stroke-linecap="round"/>
<path d="M459.7,179.8L469.5,179.8" stroke="#0a0a0a" stroke-width="1.6" stroke-linecap="round"/>
<path d="M472.3,198.3 L477.8,178.1 C479.1,171.9 482.6,169.3 485.1,170.1 C488.1,171.2 488.1,176.7 482.6,178.9 C487.3,179.4 489.0,183.8 486.8,187.7 C484.7,191.7 480.0,192.6 477.0,189.5" fill="none" stroke="#0a0a0a" stroke-width="1.95" stroke-linecap="round" stroke-linejoin="round"/><path d="M491.1,175.9 L491.1,189.2 M497.8,181.0 C500.1,181.0 501.9,182.8 501.9,185.1 C501.9,187.4 500.1,189.2 497.8,189.2 C495.6,189.2 493.8,187.4 493.8,185.1 C493.8,182.8 495.6,181.0 497.8,181.0 M508.3,181.0 C510.5,181.0 512.2,182.8 512.2,185.1 C512.2,187.4 510.5,189.2 508.3,189.2 C506.1,189.2 504.4,187.4 504.4,185.1 C504.4,182.8 506.1,181.0 508.3,181.0 M512.2,181.0 L512.2,189.5 C512.2,191.9 509.3,192.8 505.4,191.6" fill="none" stroke="#0a0a0a" stroke-width="1.95" stroke-linecap="round" stroke-linejoin="round"/><path d="M520.0,179.9L609.1,179.9" stroke="#0a0a0a" stroke-width="1.5" stroke-linecap="round"/><path d="M530.3,166.1 C531.2,164.1 532.9,163.7 535.4,164.1 C537.6,164.6 539.6,163.9 541.3,163.0 M535.4,164.1 C535.1,168.8 533.6,172.8 530.9,175.1 M538.9,164.0 C538.7,168.8 538.7,172.2 539.1,175.3" fill="none" stroke="#0a0a0a" stroke-width="1.95" stroke-linecap="round" stroke-linejoin="round"/><path d="M547.3,167.2 C549.3,166.9 550.6,169.4 550.1,172.5 C549.6,175.5 548.1,177.3 546.5,177.0 C544.5,176.7 543.5,174.2 544.0,171.5 C544.5,168.7 545.8,167.2 547.3,167.2 M544.1,172.2 L550.2,171.7" fill="none" stroke="#0a0a0a" stroke-width="1.6" stroke-linecap="round" stroke-linejoin="round"/><path d="M561.0,160.1 C557.3,163.8 557.3,170.5 560.7,174.3" fill="none" stroke="#0a0a0a" stroke-width="1.95" stroke-linecap="round" stroke-linejoin="round"/><path d="M563.4,167.5 L563.4,171.3 C563.4,173.6 565.4,174.5 567.3,174.3 C569.2,174.0 570.6,173.1 570.6,171.6 M570.6,167.5 L570.6,175.0 C570.6,176.8 568.2,177.6 564.4,176.8" fill="none" stroke="#0a0a0a" stroke-width="1.95" stroke-linecap="round" stroke-linejoin="round"/><path d="M573.2,170.3L573.2,175.3" stroke="#777" stroke-width="1.3" stroke-linecap="round"/><path d="M576.8,159.3L576.8,175.4" stroke="#0a0a0a" stroke-width="1.95" stroke-linecap="round"/><path d="M580.3,167.5 L587.1,174.5 M586.8,167.5 L580.4,174.5" fill="none" stroke="#0a0a0a" stroke-width="1.95" stroke-linecap="round" stroke-linejoin="round"/><path d="M590.4,160.1 C593.9,163.8 593.9,170.5 590.7,174.3" fill="none" stroke="#0a0a0a" stroke-width="1.95" stroke-linecap="round" stroke-linejoin="round"/><path d="M524.7,190.8 C525.7,188.7 527.7,188.2 530.4,188.7 C533.0,189.1 535.2,188.4 537.2,187.5 M530.4,188.7 C530.2,193.7 528.4,197.9 525.4,200.3 M534.5,188.5 C534.2,193.7 534.2,197.3 534.7,200.5" fill="none" stroke="#0a0a0a" stroke-width="1.95" stroke-linecap="round" stroke-linejoin="round"/><path d="M539.1,194.3 L539.1,202.4 M539.1,197.5 C539.8,195.4 541.1,193.9 542.8,194.6 M544.5,198.4 L549.2,198.0 C549.2,195.6 548.2,194.2 546.8,194.2 C545.2,194.2 544.3,196.2 544.3,198.5 C544.3,200.8 545.4,202.4 547.1,202.4 C548.1,202.4 548.9,201.9 549.4,201.0 M557.1,190.4 C556.0,189.0 553.5,189.3 553.5,192.5 L553.5,202.4 M551.1,195.1 L556.7,194.9" fill="none" stroke="#0a0a0a" stroke-width="1.6" stroke-linecap="round" stroke-linejoin="round"/><path d="M568.4,184.6 C564.7,188.3 564.7,195.0 568.1,198.8" fill="none" stroke="#0a0a0a" stroke-width="1.95" stroke-linecap="round" stroke-linejoin="round"/><path d="M570.8,192.0 L570.8,195.8 C570.8,198.1 572.8,199.0 574.7,198.8 C576.6,198.5 578.0,197.6 578.0,196.1 M578.0,192.0 L578.0,199.5 C578.0,201.3 575.6,202.1 571.8,201.3" fill="none" stroke="#0a0a0a" stroke-width="1.95" stroke-linecap="round" stroke-linejoin="round"/><path d="M580.6,194.8L580.6,199.8" stroke="#777" stroke-width="1.3" stroke-linecap="round"/><path d="M584.2,183.8L584.2,199.9" stroke="#0a0a0a" stroke-width="1.95" stroke-linecap="round"/><path d="M587.7,192.0 L594.5,199.0 M594.2,192.0 L587.8,199.0" fill="none" stroke="#0a0a0a" stroke-width="1.95" stroke-linecap="round" stroke-linejoin="round"/><path d="M597.8,184.6 C601.3,188.3 601.3,195.0 598.1,198.8" fill="none" stroke="#0a0a0a" stroke-width="1.95" stroke-linecap="round" stroke-linejoin="round"/>
<path d="M608.3,158 C619.5,173.21 617.5,190.95499999999998 611.99,208.7" stroke="#0a0a0a" stroke-width="1.7" fill="none" stroke-linecap="round"/>
<g transform="translate(673.2,0)"><path d="M107.3,120.6L154.5,99.9 M107.3,120.6L154.5,137.0 M107.3,158.0L154.5,99.9 M107.3,158.0L154.5,212.0 M107.3,195.5L154.5,137.0 M107.3,195.5L154.5,174.8 M107.3,195.5L154.5,212.0 M154.5,99.9L201.4,137.0 M154.5,99.9L201.4,174.8 M154.5,137.0L154.5,174.8 M154.5,212.0L201.4,137.0 M154.5,212.0L201.4,174.8 M201.4,137.0L201.4,174.8" stroke="#0a0a0a" stroke-width="1.6" fill="none"/><circle cx="107.3" cy="120.6" r="14.3" fill="#fff"/><path d="M111.74,107.01 A14.3,14.3 0 1 1 95.71,128.98 A13.600000000000001,13.600000000000001 0 0 0 111.74,107.01 Z" fill="#8fa9f2"/><circle cx="107.3" cy="120.6" r="14.3" fill="none" stroke="#0a0a0a" stroke-width="1.6"/><circle cx="107.3" cy="158.0" r="14.3" fill="#fff"/><path d="M111.74,144.41 A14.3,14.3 0 1 1 95.71,166.38 A13.600000000000001,13.600000000000001 0 0 0 111.74,144.41 Z" fill="#8fa9f2"/><circle cx="107.3" cy="158.0" r="14.3" fill="none" stroke="#0a0a0a" stroke-width="1.6"/><circle cx="107.3" cy="195.5" r="14.3" fill="#fff"/><path d="M111.74,181.91 A14.3,14.3 0 1 1 95.71,203.88 A13.600000000000001,13.600000000000001 0 0 0 111.74,181.91 Z" fill="#8fa9f2"/><circle cx="107.3" cy="195.5" r="14.3" fill="none" stroke="#0a0a0a" stroke-width="1.6"/><circle cx="154.5" cy="99.9" r="14.3" fill="#fff"/><path d="M158.94,86.31 A14.3,14.3 0 1 1 142.91,108.28 A13.600000000000001,13.600000000000001 0 0 0 158.94,86.31 Z" fill="#8fa9f2"/><circle cx="154.5" cy="99.9" r="14.3" fill="none" stroke="#0a0a0a" stroke-width="1.6"/><circle cx="154.5" cy="137.0" r="14.3" fill="#fff"/><path d="M158.94,123.41 A14.3,14.3 0 1 1 142.91,145.38 A13.600000000000001,13.600000000000001 0 0 0 158.94,123.41 Z" fill="#8fa9f2"/><circle cx="154.5" cy="137.0" r="14.3" fill="none" stroke="#0a0a0a" stroke-width="1.6"/><circle cx="154.5" cy="174.8" r="14.3" fill="#fff"/><path d="M158.94,161.21 A14.3,14.3 0 1 1 142.91,183.18 A13.600000000000001,13.600000000000001 0 0 0 158.94,161.21 Z" fill="#8fa9f2"/><circle cx="154.5" cy="174.8" r="14.3" fill="none" stroke="#0a0a0a" stroke-width="1.6"/><circle cx="154.5" cy="212.0" r="14.3" fill="#fff"/><path d="M158.94,198.41 A14.3,14.3 0 1 1 142.91,220.38 A13.600000000000001,13.600000000000001 0 0 0 158.94,198.41 Z" fill="#8fa9f2"/><circle cx="154.5" cy="212.0" r="14.3" fill="none" stroke="#0a0a0a" stroke-width="1.6"/><circle cx="201.4" cy="137.0" r="14.3" fill="#fff"/><path d="M205.84,123.41 A14.3,14.3 0 1 1 189.81,145.38 A13.600000000000001,13.600000000000001 0 0 0 205.84,123.41 Z" fill="#8fa9f2"/><circle cx="201.4" cy="137.0" r="14.3" fill="none" stroke="#0a0a0a" stroke-width="1.6"/><circle cx="201.4" cy="174.8" r="14.3" fill="#fff"/><path d="M205.84,161.21 A14.3,14.3 0 1 1 189.81,183.18 A13.600000000000001,13.600000000000001 0 0 0 205.84,161.21 Z" fill="#8fa9f2"/><circle cx="201.4" cy="174.8" r="14.3" fill="none" stroke="#0a0a0a" stroke-width="1.6"/></g><clipPath id="c101"><path d="M754.98,238.81 L737.98,251.61 A11,11 0 0 0 733.60,260.40 L733.60,325.80 A11,11 0 0 0 744.60,336.80 L889.20,336.80 A11,11 0 0 0 895.82,334.59 L912.82,321.79 L906.20,313.00 L761.60,247.60 Z"/></clipPath><path d="M754.98,238.81 L737.98,251.61 A11,11 0 0 0 733.60,260.40 L733.60,325.80 A11,11 0 0 0 744.60,336.80 L889.20,336.80 A11,11 0 0 0 895.82,334.59 L912.82,321.79 L906.20,313.00 L761.60,247.60 Z" fill="#8fa9f2" stroke="#0a0a0a" stroke-width="1.35" stroke-linejoin="round"/><path d="M732.6,251.6L751.6,244.6 M732.6,260.1L751.6,250.6 M732.6,265.3L751.6,258.1 M732.6,271.2L751.6,264.2 M732.6,277.9L751.6,271.0 M732.6,283.4L751.6,274.9 M732.6,288.3L751.6,277.3 M732.6,293.6L751.6,284.5 M732.6,298.5L751.6,285.7 M732.6,306.2L751.6,292.9 M732.6,311.1L751.6,302.1 M732.6,317.2L751.6,312.0 M732.6,322.7L751.6,314.4 M732.6,326.9L751.6,321.7 M732.6,332.0L751.6,326.6 M734.6,333.8L753.6,320.0 M738.6,337.8L760.6,323.0 M744.6,337.8L767.6,323.0 M749.7,337.8L772.0,323.0 M759.0,337.8L780.0,323.0 M766.2,337.8L785.4,323.0 M774.8,337.8L793.9,323.0 M783.5,337.8L793.1,323.0 M787.1,337.8L799.4,323.0 M798.0,337.8L814.1,323.0 M802.8,337.8L818.3,323.0 M811.5,337.8L822.2,323.0 M816.9,337.8L832.2,323.0 M825.2,337.8L841.6,323.0 M831.4,337.8L847.8,323.0 M835.8,337.8L849.6,323.0 M844.3,337.8L854.3,323.0 M851.1,337.8L861.4,323.0 M859.2,337.8L870.3,323.0 M865.7,337.8L882.2,323.0 M870.0,337.8L884.6,323.0 M878.8,337.8L893.3,323.0 M888.5,337.8L902.4,323.0 M896.6,337.8L908.3,323.0" stroke="#0a0a0a" stroke-width="1.15" fill="none" stroke-linecap="round" clip-path="url(#c101)"/><rect x="750.6" y="236.6" width="166.60000000000002" height="87.4" rx="11" fill="#fff" stroke="#0a0a0a" stroke-width="1.35"/><path d="M773.3,269.2 L773.1,290.5 M773.3,269.6 C778.1,267.5 784.2,269.2 784.2,273.5 C784.2,277.2 779.1,279.1 774.1,279.5 C780.6,279.3 786.2,281.5 786.2,285.1 C786.2,289.6 780.1,291.1 773.1,290.5 M791.3,279.1 C793.6,276.3 800.4,276.1 800.6,281.0 L800.6,289.2 L801.4,290.5 M800.6,283.0 C796.1,281.7 790.0,282.5 790.0,286.8 C790.0,290.7 796.1,291.1 800.6,288.6 M816.3,279.3 C814.6,276.7 807.5,276.3 806.2,279.8 C805.5,282.5 809.0,283.2 811.5,283.8 C815.6,284.7 817.6,286.6 816.1,288.8 C814.1,291.4 807.0,290.9 805.0,288.4 M821.4,283.8 L832.0,283.2 C832.0,279.3 829.8,277.0 826.5,277.0 C822.9,277.0 820.9,280.2 820.9,284.1 C820.9,287.9 823.4,290.5 827.2,290.5 C829.5,290.5 831.3,289.6 832.6,288.1" fill="none" stroke="#0a0a0a" stroke-width="2.5" stroke-linecap="round" stroke-linejoin="round"/><path d="M845.9,269.0 L845.7,290.3 L856.9,289.9 M861.1,269.0 L860.8,290.3 L872.1,289.9 M875.9,290.5 L877.5,269.0 L885.2,280.2 L892.9,269.0 L895.0,290.5" fill="none" stroke="#0a0a0a" stroke-width="2.5" stroke-linecap="round" stroke-linejoin="round"/><path d="M933.8000000000001,301.7 L1068.8000000000002,302.4 M1052.8000000000002,297.2 L1069.3000000000002,302.4 L1052.8000000000002,309.2" stroke="#0a0a0a" stroke-width="2.3" fill="none" stroke-linecap="round" stroke-linejoin="round"/><path d="M987.4,272.6L1014.6,272.6M1001.0,259.1L1001.0,286.1" stroke="#0a0a0a" stroke-width="2.0" stroke-linecap="round" fill="none"/><path d="M1175.7,345.0 C1164.7,388.6 1138.7,428.6 1095.2,461.6 M1102.7,447.6 L1094.8000000000002,462.1 L1111.1,456.6" stroke="#0a0a0a" stroke-width="2.2" fill="none" stroke-linecap="round" stroke-linejoin="round"/><path d="M1157.3999999999999,411.3L1184.2,411.3M1170.8,397.7L1170.8,424.90000000000003" stroke="#0a0a0a" stroke-width="2.0" stroke-linecap="round" fill="none"/><path d="M760.2,392.40000000000003 L857.5,392.40000000000003 A8,8 0 0 1 865.5,400.40000000000003 L865.5,442.6 A8,8 0 0 1 857.5,450.6 L816.4000000000001,450.6 L801.3000000000001,464.0 L783.3000000000001,450.6 L760.2,450.6 A8,8 0 0 1 752.2,442.6 L752.2,400.40000000000003 A8,8 0 0 1 760.2,392.40000000000003 Z" fill="#fff" stroke="#383838" stroke-width="1.5" stroke-linejoin="round"/><rect x="773.4" y="412.70000000000005" width="18.0" height="18.7" rx="0.8" fill="#fff" stroke="#1c1c1c" stroke-width="1.25"/><rect x="798.8" y="412.70000000000005" width="18.1" height="18.7" rx="0.8" fill="#8fa9f2" stroke="#1c1c1c" stroke-width="1.25"/><rect x="823.9" y="412.70000000000005" width="18.0" height="18.7" rx="0.8" fill="#fff" stroke="#1c1c1c" stroke-width="1.25"/><circle cx="758.7" cy="430.90000000000003" r="0.8" fill="#777"/><circle cx="763.6" cy="430.90000000000003" r="0.8" fill="#777"/><circle cx="768.4" cy="430.90000000000003" r="0.8" fill="#777"/><circle cx="847.2" cy="430.90000000000003" r="0.8" fill="#777"/><circle cx="852.2" cy="430.90000000000003" r="0.8" fill="#777"/><circle cx="857.2" cy="430.90000000000003" r="0.8" fill="#777"/><path d="M904.5,392.40000000000003 L996.8000000000001,392.40000000000003 A8,8 0 0 1 1004.8000000000001,400.40000000000003 L1004.8000000000001,442.6 A8,8 0 0 1 996.8000000000001,450.6 L960.7,450.6 L945.6,464.0 L927.6,450.6 L904.5,450.6 A8,8 0 0 1 896.5,442.6 L896.5,400.40000000000003 A8,8 0 0 1 904.5,392.40000000000003 Z" fill="#fff" stroke="#383838" stroke-width="1.5" stroke-linejoin="round"/><rect x="916.7" y="412.70000000000005" width="18.0" height="18.7" rx="0.8" fill="#fff" stroke="#1c1c1c" stroke-width="1.25"/><rect x="941.7" y="412.70000000000005" width="18.1" height="18.7" rx="0.8" fill="#8fa9f2" stroke="#1c1c1c" stroke-width="1.25"/><rect x="966.8" y="412.70000000000005" width="18.2" height="18.7" rx="0.8" fill="#fff" stroke="#1c1c1c" stroke-width="1.25"/><circle cx="902.0" cy="430.90000000000003" r="0.8" fill="#777"/><circle cx="906.9" cy="430.90000000000003" r="0.8" fill="#777"/><circle cx="911.8" cy="430.90000000000003" r="0.8" fill="#777"/><circle cx="990.2" cy="430.90000000000003" r="0.8" fill="#777"/><circle cx="995.2" cy="430.90000000000003" r="0.8" fill="#777"/><circle cx="1000.2" cy="430.90000000000003" r="0.8" fill="#777"/><path d="M888.5,411.1 L872.1,419.2 L888.5,427.7" stroke="#4d5366" stroke-width="1.6" fill="none" stroke-linecap="round" stroke-linejoin="round"/><clipPath id="c103"><path d="M848.77,480.22 L831.57,493.22 A11,11 0 0 0 827.20,502.00 L827.20,566.70 A11,11 0 0 0 838.20,577.70 L1200.10,577.70 A11,11 0 0 0 1206.73,575.48 L1223.93,562.48 L1217.30,553.70 L855.40,489.00 Z"/></clipPath><path d="M848.77,480.22 L831.57,493.22 A11,11 0 0 0 827.20,502.00 L827.20,566.70 A11,11 0 0 0 838.20,577.70 L1200.10,577.70 A11,11 0 0 0 1206.73,575.48 L1223.93,562.48 L1217.30,553.70 L855.40,489.00 Z" fill="#8fa9f2" stroke="#0a0a0a" stroke-width="1.35" stroke-linejoin="round"/><path d="M826.2,494.0L845.4,484.5 M826.2,500.3L845.4,493.1 M826.2,504.2L845.4,497.8 M826.2,510.1L845.4,496.7 M826.2,512.8L845.4,505.6 M826.2,520.0L845.4,512.7 M826.2,524.4L845.4,514.3 M826.2,529.6L845.4,517.5 M826.2,536.4L845.4,523.8 M826.2,543.4L845.4,535.9 M826.2,548.3L845.4,534.2 M826.2,554.5L845.4,547.0 M826.2,559.0L845.4,544.5 M826.2,567.8L845.4,557.7 M828.2,574.7L847.4,560.7 M832.2,578.7L854.4,563.7 M838.2,578.7L861.4,563.7 M843.8,578.7L869.0,563.7 M849.3,578.7L869.8,563.7 M855.3,578.7L871.6,563.7 M863.4,578.7L876.8,563.7 M870.9,578.7L888.4,563.7 M877.8,578.7L893.1,563.7 M883.3,578.7L897.7,563.7 M890.3,578.7L903.5,563.7 M897.0,578.7L910.3,563.7 M902.9,578.7L919.5,563.7 M910.0,578.7L924.6,563.7 M915.3,578.7L929.5,563.7 M923.0,578.7L936.5,563.7 M929.5,578.7L944.5,563.7 M935.9,578.7L952.3,563.7 M943.7,578.7L955.8,563.7 M951.2,578.7L963.7,563.7 M959.4,578.7L974.0,563.7 M970.1,578.7L985.2,563.7 M975.1,578.7L989.8,563.7 M979.4,578.7L996.0,563.7 M987.3,578.7L1000.4,563.7 M994.6,578.7L1006.6,563.7 M1002.5,578.7L1014.7,563.7 M1007.8,578.7L1020.7,563.7 M1014.9,578.7L1030.8,563.7 M1021.1,578.7L1036.9,563.7 M1031.2,578.7L1045.2,563.7 M1040.5,578.7L1050.4,563.7 M1045.6,578.7L1058.0,563.7 M1052.2,578.7L1067.3,563.7 M1060.6,578.7L1070.5,563.7 M1071.2,578.7L1085.2,563.7 M1074.8,578.7L1091.8,563.7 M1083.5,578.7L1099.4,563.7 M1091.7,578.7L1103.4,563.7 M1096.7,578.7L1112.4,563.7 M1105.8,578.7L1120.1,563.7 M1111.6,578.7L1126.5,563.7 M1120.0,578.7L1135.4,563.7 M1130.2,578.7L1140.8,563.7 M1135.5,578.7L1150.6,563.7 M1142.1,578.7L1155.4,563.7 M1148.6,578.7L1160.5,563.7 M1154.7,578.7L1168.5,563.7 M1163.6,578.7L1175.9,563.7 M1169.4,578.7L1180.7,563.7 M1175.0,578.7L1187.2,563.7 M1181.9,578.7L1193.8,563.7 M1187.8,578.7L1200.1,563.7 M1195.2,578.7L1208.1,563.7 M1201.4,578.7L1213.5,563.7 M1210.4,578.7L1225.3,563.7" stroke="#0a0a0a" stroke-width="1.15" fill="none" stroke-linecap="round" clip-path="url(#c103)"/><rect x="844.4000000000001" y="478" width="383.89999999999986" height="86.70000000000005" rx="11" fill="#fff" stroke="#0a0a0a" stroke-width="1.35"/><path d="M868.6,509.4 L868.4,531.1 L878.6,530.6 M888.0,517.7 C891.2,517.7 893.8,520.8 893.8,524.5 C893.8,528.3 891.2,531.3 888.0,531.3 C884.8,531.3 882.1,528.3 882.1,524.5 C882.1,520.8 884.8,517.7 888.0,517.7 M897.3,517.7 L900.4,531.3 L903.6,521.7 L906.9,531.3 L910.0,517.7" fill="none" stroke="#0a0a0a" stroke-width="2.5" stroke-linecap="round" stroke-linejoin="round"/><path d="M924.4,524.5 L935.2,523.9 C935.2,519.9 932.9,517.5 929.5,517.5 C925.9,517.5 923.9,520.8 923.9,524.7 C923.9,528.7 926.4,531.3 930.3,531.3 C932.6,531.3 934.4,530.4 935.7,528.9 M945.7,517.7 C949.2,517.7 951.9,520.8 951.9,524.5 C951.9,528.3 949.2,531.3 945.7,531.3 C942.3,531.3 939.6,528.3 939.6,524.5 C939.6,520.8 942.3,517.7 945.7,517.7 M951.9,509.4 L951.9,531.3 M956.0,517.7 L956.0,531.3 M956.0,511.8 L956.0,512.5 M963.8,511.2 L963.8,528.2 C963.8,530.9 966.3,532.0 969.7,530.4 M960.2,518.2 L968.9,517.7 M973.3,523.6 L980.0,523.6 M990.0,517.7 C993.5,517.7 996.2,520.8 996.2,524.5 C996.2,528.3 993.5,531.3 990.0,531.3 C986.6,531.3 983.9,528.3 983.9,524.5 C983.9,520.8 986.6,517.7 990.0,517.7 M996.2,509.4 L996.2,531.3 M1000.3,517.7 L1000.3,531.3 M1000.3,511.8 L1000.3,512.5 M1016.0,519.9 C1014.2,517.3 1007.0,516.8 1005.7,520.3 C1005.0,523.2 1008.6,523.9 1011.2,524.5 C1015.3,525.4 1017.3,527.4 1015.8,529.5 C1013.7,532.2 1006.5,531.7 1004.5,529.1 M1024.3,511.2 L1024.3,528.2 C1024.3,530.9 1026.9,532.0 1030.2,530.4 M1020.7,518.2 L1029.4,517.7 M1035.1,519.7 C1037.4,516.8 1044.4,516.6 1044.6,521.7 L1044.6,530.0 L1045.4,531.3 M1044.6,523.6 C1040.0,522.3 1033.8,523.2 1033.8,527.6 C1033.8,531.5 1040.0,532.0 1044.6,529.3 M1049.0,517.7 L1049.0,531.3 M1049.0,522.5 C1051.1,518.6 1054.7,517.1 1057.3,517.9 C1059.8,518.8 1060.3,521.2 1060.3,524.7 L1060.3,531.3 M1075.0,520.1 C1073.0,517.3 1067.8,516.8 1065.8,520.3 C1063.7,523.9 1064.2,528.7 1067.3,530.6 C1070.4,532.2 1074.0,531.3 1075.5,528.9 M1079.9,524.5 L1090.7,523.9 C1090.7,519.9 1088.4,517.5 1085.1,517.5 C1081.5,517.5 1079.4,520.8 1079.4,524.7 C1079.4,528.7 1082.0,531.3 1085.8,531.3 C1088.2,531.3 1090.0,530.4 1091.2,528.9" fill="none" stroke="#0a0a0a" stroke-width="2.5" stroke-linecap="round" stroke-linejoin="round"/><path d="M1112.4,517.7 C1115.9,517.7 1118.7,520.8 1118.7,524.5 C1118.7,528.3 1115.9,531.3 1112.4,531.3 C1109.0,531.3 1106.2,528.3 1106.2,524.5 C1106.2,520.8 1109.0,517.7 1112.4,517.7 M1118.7,509.4 L1118.7,531.3 M1124.0,519.7 C1126.3,516.8 1133.4,516.6 1133.7,521.7 L1133.7,530.0 L1134.4,531.3 M1133.7,523.6 C1128.9,522.3 1122.7,523.2 1122.7,527.6 C1122.7,531.5 1128.9,532.0 1133.7,529.3 M1141.8,511.2 L1141.8,528.2 C1141.8,530.9 1144.4,532.0 1147.8,530.4 M1138.1,518.2 L1147.0,517.7 M1152.8,519.7 C1155.1,516.8 1162.2,516.6 1162.5,521.7 L1162.5,530.0 L1163.3,531.3 M1162.5,523.6 C1157.8,522.3 1151.5,523.2 1151.5,527.6 C1151.5,531.5 1157.8,532.0 1162.5,529.3 M1178.7,519.9 C1176.9,517.3 1169.6,516.8 1168.2,520.3 C1167.5,523.2 1171.1,523.9 1173.7,524.5 C1177.9,525.4 1180.0,527.4 1178.5,529.5 C1176.4,532.2 1169.0,531.7 1166.9,529.1 M1184.0,524.5 L1195.0,523.9 C1195.0,519.9 1192.6,517.5 1189.2,517.5 C1185.5,517.5 1183.4,520.8 1183.4,524.7 C1183.4,528.7 1186.1,531.3 1190.0,531.3 C1192.3,531.3 1194.2,530.4 1195.5,528.9 M1203.1,511.2 L1203.1,528.2 C1203.1,530.9 1205.7,532.0 1209.1,530.4 M1199.4,518.2 L1208.3,517.7" fill="none" stroke="#0a0a0a" stroke-width="2.5" stroke-linecap="round" stroke-linejoin="round"/>
<clipPath id="c102"><path d="M1103.16,236.79 L1086.16,250.29 A11,11 0 0 0 1082.00,258.90 L1082.00,323.30 A11,11 0 0 0 1093.00,334.30 L1237.00,334.30 A11,11 0 0 0 1243.84,331.91 L1260.84,318.41 L1254.00,309.80 L1110.00,245.40 Z"/></clipPath><path d="M1103.16,236.79 L1086.16,250.29 A11,11 0 0 0 1082.00,258.90 L1082.00,323.30 A11,11 0 0 0 1093.00,334.30 L1237.00,334.30 A11,11 0 0 0 1243.84,331.91 L1260.84,318.41 L1254.00,309.80 L1110.00,245.40 Z" fill="#8fa9f2" stroke="#0a0a0a" stroke-width="1.35" stroke-linejoin="round"/><path d="M1081.0,249.2L1100.0,238.3 M1081.0,254.8L1100.0,244.1 M1081.0,260.1L1100.0,249.7 M1081.0,263.9L1100.0,253.0 M1081.0,270.5L1100.0,258.6 M1081.0,274.6L1100.0,268.3 M1081.0,282.8L1100.0,272.0 M1081.0,288.0L1100.0,280.9 M1081.0,293.4L1100.0,282.4 M1081.0,300.8L1100.0,293.4 M1081.0,304.4L1100.0,292.8 M1081.0,311.1L1100.0,302.0 M1081.0,316.9L1100.0,310.3 M1081.0,321.0L1100.0,310.0 M1081.0,326.5L1100.0,317.3 M1083.0,331.3L1102.0,316.8 M1087.0,335.3L1109.0,319.8 M1093.0,335.3L1116.0,319.8 M1099.8,335.3L1128.7,319.8 M1106.6,335.3L1133.5,319.8 M1113.7,335.3L1136.9,319.8 M1121.1,335.3L1140.3,319.8 M1129.7,335.3L1144.9,319.8 M1137.0,335.3L1151.4,319.8 M1143.4,335.3L1161.2,319.8 M1147.0,335.3L1164.1,319.8 M1156.6,335.3L1168.7,319.8 M1165.6,335.3L1177.4,319.8 M1171.8,335.3L1183.7,319.8 M1177.3,335.3L1191.3,319.8 M1182.8,335.3L1196.1,319.8 M1188.2,335.3L1199.5,319.8 M1195.1,335.3L1211.2,319.8 M1201.6,335.3L1213.2,319.8 M1208.6,335.3L1220.3,319.8 M1215.5,335.3L1232.4,319.8 M1222.4,335.3L1237.7,319.8 M1226.5,335.3L1238.0,319.8 M1235.6,335.3L1252.5,319.8 M1246.0,335.3L1259.9,319.8 M1249.2,335.3L1261.1,319.8" stroke="#0a0a0a" stroke-width="1.15" fill="none" stroke-linecap="round" clip-path="url(#c102)"/><rect x="1099" y="234.4" width="166" height="86.4" rx="11" fill="#fff" stroke="#0a0a0a" stroke-width="1.35"/>
<path d="M1146.5,266.8 L1146.2,287.5 M1146.5,266.8 C1154.9,265.8 1161.0,270.4 1161.0,277.1 C1161.0,284.2 1154.9,288.1 1146.2,287.5 M1165.1,266.8 L1164.8,287.5 M1165.1,267.2 C1171.9,265.1 1178.8,267.4 1178.8,272.5 C1178.8,277.1 1172.5,279.1 1165.3,278.3 M1191.3,266.6 C1196.2,266.6 1200.2,271.3 1200.2,277.1 C1200.2,282.8 1196.2,287.5 1191.3,287.5 C1186.4,287.5 1182.4,282.8 1182.4,277.1 C1182.4,271.3 1186.4,266.6 1191.3,266.6 M1204.3,266.8 L1204.0,287.5 M1204.3,267.2 C1211.1,265.1 1218.0,267.4 1218.0,272.5 C1218.0,277.1 1211.6,279.1 1204.5,278.3" fill="none" stroke="#0a0a0a" stroke-width="2.5" stroke-linecap="round" stroke-linejoin="round"/>
<path d="M1005.4,617.1L1052.4,617.1M1005.4,634.0L1052.4,634.0" stroke="#0a0a0a" stroke-width="2.2" stroke-linecap="round"/><path d="M909.3,853.7 L909.3,645.2 M902.0999999999999,658.6 L909.3,644.8 L916.5,658.6 M891.0999999999999,838.6 L1131.1,839.9 M1117.5,833.3 L1131.6,839.9 L1117.5,845.8" stroke="#0a0a0a" stroke-width="2.1" fill="none" stroke-linecap="round" stroke-linejoin="round"/><path d="M994.9,846.8 L994.9,861.0 C994.9,863.1 997.0,864.0 999.6,862.8 M992.0,852.6 L999.0,852.2 M1002.8,852.2 L1002.8,863.5 M1002.8,847.3 L1002.8,847.8 M1006.1,852.2 L1006.1,863.5 M1006.1,855.9 C1007.3,853.1 1009.8,851.7 1011.4,852.8 C1012.7,853.9 1012.7,855.5 1012.7,858.0 L1012.7,863.5 M1012.7,855.9 C1013.9,853.1 1016.4,851.7 1018.0,852.8 C1019.3,853.9 1019.3,855.5 1019.3,858.0 L1019.3,863.5 M1022.8,857.9 L1031.5,857.3 C1031.5,854.0 1029.6,852.0 1026.9,852.0 C1024.0,852.0 1022.4,854.8 1022.4,858.0 C1022.4,861.3 1024.5,863.5 1027.6,863.5 C1029.4,863.5 1030.9,862.8 1031.9,861.5" fill="none" stroke="#0a0a0a" stroke-width="2.0" stroke-linecap="round" stroke-linejoin="round"/><g transform="translate(896.5,793.4) rotate(-90)"><path d="M1.2,-16.6 L1.2,0.0 M9.6,-10.3 C12.4,-10.3 14.7,-8.0 14.7,-5.1 C14.7,-2.3 12.4,0.0 9.6,0.0 C6.8,0.0 4.5,-2.3 4.5,-5.1 C4.5,-8.0 6.8,-10.3 9.6,-10.3 M22.7,-10.3 C25.5,-10.3 27.7,-8.0 27.7,-5.1 C27.7,-2.3 25.5,0.0 22.7,0.0 C20.0,0.0 17.8,-2.3 17.8,-5.1 C17.8,-8.0 20.0,-10.3 22.7,-10.3 M27.7,-10.3 L27.7,0.3 C27.7,3.3 24.0,4.5 19.1,3.0 M30.7,-5.8 L36.1,-5.8 M39.2,-10.3 L39.2,4.0 M39.2,-7.3 C40.8,-9.8 44.5,-11.1 46.9,-9.5 C49.4,-7.5 49.0,-2.3 46.1,-0.7 C43.7,0.7 40.8,0.0 39.2,-2.2 M51.7,-10.3 L51.7,0.0 M51.7,-6.3 C52.9,-9.0 55.4,-10.8 58.4,-10.0 M66.4,-10.3 C69.3,-10.3 71.6,-8.0 71.6,-5.1 C71.6,-2.3 69.3,0.0 66.4,0.0 C63.6,0.0 61.3,-2.3 61.3,-5.1 C61.3,-8.0 63.6,-10.3 66.4,-10.3 M74.6,-16.6 L74.6,0.0 M74.6,-7.3 C76.3,-9.8 80.0,-11.1 82.4,-9.5 C84.9,-7.5 84.5,-2.3 81.6,-0.7 C79.2,0.7 76.3,0.0 74.6,-2.2 M96.4,-8.6 C94.9,-10.6 89.2,-11.0 88.2,-8.3 C87.6,-6.1 90.4,-5.6 92.5,-5.1 C95.8,-4.5 97.4,-3.0 96.2,-1.3 C94.5,0.7 88.8,0.3 87.2,-1.7" fill="none" stroke="#0a0a0a" stroke-width="2.0" stroke-linecap="round" stroke-linejoin="round"/></g>
<path d="M910.2,744.6 L1034.4,726.5 L1102.2,668.8 M1086.1,673 L1102.7,668.3 L1099.6,684.6" stroke="#6aa84f" stroke-width="3.2" fill="none" stroke-linecap="round" stroke-linejoin="round"/>
<path d="M951.8,120.0 L951.8,133.3 M958.0,125.1 C960.1,125.1 961.8,126.9 961.8,129.2 C961.8,131.5 960.1,133.3 958.0,133.3 C955.9,133.3 954.2,131.5 954.2,129.2 C954.2,126.9 955.9,125.1 958.0,125.1 M967.7,125.1 C969.7,125.1 971.3,126.9 971.3,129.2 C971.3,131.5 969.7,133.3 967.7,133.3 C965.7,133.3 964.1,131.5 964.1,129.2 C964.1,126.9 965.7,125.1 967.7,125.1 M971.3,125.1 L971.3,133.6 C971.3,136.0 968.6,136.9 965.0,135.7" fill="none" stroke="#0a0a0a" stroke-width="1.95" stroke-linecap="round" stroke-linejoin="round"/><path d="M981.8,123.9 C984.1,123.9 986.0,125.9 986.0,128.3 C986.0,130.8 984.1,132.8 981.8,132.8 C979.5,132.8 977.7,130.8 977.7,128.3 C977.7,125.9 979.5,123.9 981.8,123.9 M981.8,123.9 C984.2,123.7 986.0,123.6 987.8,122.9" fill="none" stroke="#0a0a0a" stroke-width="1.95" stroke-linecap="round" stroke-linejoin="round"/>
<path d="M1000.7,101.3 C989.2,119.08 991.2,136.85999999999999 996.875,152.1" stroke="#0a0a0a" stroke-width="1.7" fill="none" stroke-linecap="round"/>
<path d="M1000.4,142.3 L1005.9,122.1 C1007.2,115.9 1010.7,113.3 1013.2,114.1 C1016.2,115.2 1016.2,120.7 1010.7,122.9 C1015.4,123.4 1017.1,127.8 1014.9,131.7 C1012.8,135.7 1008.1,136.6 1005.1,133.5" fill="none" stroke="#0a0a0a" stroke-width="1.95" stroke-linecap="round" stroke-linejoin="round"/><path d="M1019.2,119.9 L1019.2,133.2 M1025.9,125.0 C1028.2,125.0 1030.0,126.8 1030.0,129.1 C1030.0,131.4 1028.2,133.2 1025.9,133.2 C1023.7,133.2 1021.9,131.4 1021.9,129.1 C1021.9,126.8 1023.7,125.0 1025.9,125.0 M1036.4,125.0 C1038.6,125.0 1040.3,126.8 1040.3,129.1 C1040.3,131.4 1038.6,133.2 1036.4,133.2 C1034.2,133.2 1032.5,131.4 1032.5,129.1 C1032.5,126.8 1034.2,125.0 1036.4,125.0 M1040.3,125.0 L1040.3,133.5 C1040.3,135.9 1037.4,136.8 1033.5,135.6" fill="none" stroke="#0a0a0a" stroke-width="1.95" stroke-linecap="round" stroke-linejoin="round"/><path d="M1048.1,123.9L1137.2,123.9" stroke="#0a0a0a" stroke-width="1.5" stroke-linecap="round"/><path d="M1058.4,110.1 C1059.3,108.1 1061.0,107.7 1063.5,108.1 C1065.7,108.6 1067.7,107.9 1069.4,107.0 M1063.5,108.1 C1063.2,112.8 1061.7,116.8 1059.0,119.1 M1067.0,108.0 C1066.8,112.8 1066.8,116.2 1067.2,119.3" fill="none" stroke="#0a0a0a" stroke-width="1.95" stroke-linecap="round" stroke-linejoin="round"/><path d="M1075.4,111.2 C1077.4,110.9 1078.7,113.4 1078.2,116.5 C1077.7,119.5 1076.2,121.3 1074.6,121.0 C1072.6,120.7 1071.6,118.2 1072.1,115.5 C1072.6,112.7 1073.9,111.2 1075.4,111.2 M1072.2,116.2 L1078.3,115.7" fill="none" stroke="#0a0a0a" stroke-width="1.6" stroke-linecap="round" stroke-linejoin="round"/><path d="M1087.6,104.1 C1083.9,107.8 1083.9,114.5 1087.3,118.3" fill="none" stroke="#0a0a0a" stroke-width="1.95" stroke-linecap="round" stroke-linejoin="round"/><path d="M1089.7,111.5 L1089.7,115.3 C1089.7,117.6 1091.4,118.5 1093.0,118.3 C1094.7,118.0 1095.8,117.1 1095.8,115.6 M1095.8,111.5 L1095.8,119.0 C1095.8,120.8 1093.8,121.6 1090.6,120.8" fill="none" stroke="#0a0a0a" stroke-width="1.95" stroke-linecap="round" stroke-linejoin="round"/><path d="M1098.5,115.8 L1099.4,119.8 L1100.3,116.9 L1101.2,119.8 L1102.0,115.8" fill="none" stroke="#444" stroke-width="1.1" stroke-linecap="round" stroke-linejoin="round"/><path d="M1106.1,103.3L1106.1,119.4" stroke="#0a0a0a" stroke-width="1.95" stroke-linecap="round"/><path d="M1110.4,111.5 L1117.8,118.5 M1117.5,111.5 L1110.5,118.5" fill="none" stroke="#0a0a0a" stroke-width="1.95" stroke-linecap="round" stroke-linejoin="round"/><path d="M1120.8,104.1 C1124.3,107.8 1124.3,114.5 1121.1,118.3" fill="none" stroke="#0a0a0a" stroke-width="1.95" stroke-linecap="round" stroke-linejoin="round"/><path d="M1052.8,134.8 C1053.8,132.7 1055.8,132.2 1058.5,132.7 C1061.1,133.1 1063.3,132.4 1065.3,131.5 M1058.5,132.7 C1058.3,137.7 1056.5,141.9 1053.5,144.3 M1062.6,132.5 C1062.3,137.7 1062.3,141.3 1062.8,144.5" fill="none" stroke="#0a0a0a" stroke-width="1.95" stroke-linecap="round" stroke-linejoin="round"/><path d="M1067.2,138.3 L1067.2,146.4 M1067.2,141.5 C1067.9,139.4 1069.2,138.0 1070.9,138.6 M1072.6,142.4 L1077.3,142.0 C1077.3,139.6 1076.3,138.2 1074.9,138.2 C1073.3,138.2 1072.4,140.2 1072.4,142.5 C1072.4,144.8 1073.5,146.4 1075.2,146.4 C1076.2,146.4 1077.0,145.9 1077.5,145.0 M1085.2,134.4 C1084.1,133.0 1081.6,133.3 1081.6,136.5 L1081.6,146.4 M1079.2,139.1 L1084.8,138.9" fill="none" stroke="#0a0a0a" stroke-width="1.6" stroke-linecap="round" stroke-linejoin="round"/><path d="M1095.0,128.6 C1091.3,132.3 1091.3,139.0 1094.7,142.8" fill="none" stroke="#0a0a0a" stroke-width="1.95" stroke-linecap="round" stroke-linejoin="round"/><path d="M1097.1,136.0 L1097.1,139.8 C1097.1,142.1 1098.8,143.0 1100.4,142.8 C1102.1,142.5 1103.2,141.6 1103.2,140.1 M1103.2,136.0 L1103.2,143.5 C1103.2,145.3 1101.2,146.1 1098.0,145.3" fill="none" stroke="#0a0a0a" stroke-width="1.95" stroke-linecap="round" stroke-linejoin="round"/><path d="M1105.9,140.3 L1106.8,144.3 L1107.7,141.4 L1108.6,144.3 L1109.4,140.3" fill="none" stroke="#444" stroke-width="1.1" stroke-linecap="round" stroke-linejoin="round"/><path d="M1113.5,127.8L1113.5,143.9" stroke="#0a0a0a" stroke-width="1.95" stroke-linecap="round"/><path d="M1117.8,136.0 L1125.2,143.0 M1124.9,136.0 L1117.9,143.0" fill="none" stroke="#0a0a0a" stroke-width="1.95" stroke-linecap="round" stroke-linejoin="round"/><path d="M1128.2,128.6 C1131.7,132.3 1131.7,139.0 1128.5,142.8" fill="none" stroke="#0a0a0a" stroke-width="1.95" stroke-linecap="round" stroke-linejoin="round"/>
<path d="M1146.8,123.3L1155.8,123.3" stroke="#0a0a0a" stroke-width="1.6" stroke-linecap="round"/>
<path d="M1158.9,142.3 L1164.4,122.1 C1165.7,115.9 1169.2,113.3 1171.7,114.1 C1174.7,115.2 1174.7,120.7 1169.2,122.9 C1173.9,123.4 1175.6,127.8 1173.4,131.7 C1171.3,135.7 1166.6,136.6 1163.6,133.5" fill="none" stroke="#0a0a0a" stroke-width="1.95" stroke-linecap="round" stroke-linejoin="round"/><path d="M1177.7,119.9 L1177.7,133.2 M1184.4,125.0 C1186.7,125.0 1188.5,126.8 1188.5,129.1 C1188.5,131.4 1186.7,133.2 1184.4,133.2 C1182.2,133.2 1180.4,131.4 1180.4,129.1 C1180.4,126.8 1182.2,125.0 1184.4,125.0 M1194.9,125.0 C1197.1,125.0 1198.8,126.8 1198.8,129.1 C1198.8,131.4 1197.1,133.2 1194.9,133.2 C1192.7,133.2 1191.0,131.4 1191.0,129.1 C1191.0,126.8 1192.7,125.0 1194.9,125.0 M1198.8,125.0 L1198.8,133.5 C1198.8,135.9 1195.9,136.8 1192.0,135.6" fill="none" stroke="#0a0a0a" stroke-width="1.95" stroke-linecap="round" stroke-linejoin="round"/><path d="M1206.6,123.9L1295.7,123.9" stroke="#0a0a0a" stroke-width="1.5" stroke-linecap="round"/><path d="M1216.9,110.1 C1217.8,108.1 1219.5,107.7 1222.0,108.1 C1224.2,108.6 1226.2,107.9 1227.9,107.0 M1222.0,108.1 C1221.7,112.8 1220.2,116.8 1217.5,119.1 M1225.5,108.0 C1225.3,112.8 1225.3,116.2 1225.7,119.3" fill="none" stroke="#0a0a0a" stroke-width="1.95" stroke-linecap="round" stroke-linejoin="round"/><path d="M1233.9,111.2 C1235.9,110.9 1237.2,113.4 1236.7,116.5 C1236.2,119.5 1234.7,121.3 1233.1,121.0 C1231.1,120.7 1230.1,118.2 1230.6,115.5 C1231.1,112.7 1232.4,111.2 1233.9,111.2 M1230.7,116.2 L1236.8,115.7" fill="none" stroke="#0a0a0a" stroke-width="1.6" stroke-linecap="round" stroke-linejoin="round"/><path d="M1247.6,104.1 C1243.9,107.8 1243.9,114.5 1247.3,118.3" fill="none" stroke="#0a0a0a" stroke-width="1.95" stroke-linecap="round" stroke-linejoin="round"/><path d="M1250.0,111.5 L1250.0,115.3 C1250.0,117.6 1252.0,118.5 1253.9,118.3 C1255.8,118.0 1257.2,117.1 1257.2,115.6 M1257.2,111.5 L1257.2,119.0 C1257.2,120.8 1254.8,121.6 1251.0,120.8" fill="none" stroke="#0a0a0a" stroke-width="1.95" stroke-linecap="round" stroke-linejoin="round"/><path d="M1259.8,114.3L1259.8,119.3" stroke="#777" stroke-width="1.3" stroke-linecap="round"/><path d="M1263.4,103.3L1263.4,119.4" stroke="#0a0a0a" stroke-width="1.95" stroke-linecap="round"/><path d="M1266.9,111.5 L1273.7,118.5 M1273.4,111.5 L1267.0,118.5" fill="none" stroke="#0a0a0a" stroke-width="1.95" stroke-linecap="round" stroke-linejoin="round"/><path d="M1277.0,104.1 C1280.5,107.8 1280.5,114.5 1277.3,118.3" fill="none" stroke="#0a0a0a" stroke-width="1.95" stroke-linecap="round" stroke-linejoin="round"/><path d="M1211.3,134.8 C1212.3,132.7 1214.3,132.2 1217.0,132.7 C1219.6,133.1 1221.8,132.4 1223.8,131.5 M1217.0,132.7 C1216.8,137.7 1215.0,141.9 1212.0,144.3 M1221.1,132.5 C1220.8,137.7 1220.8,141.3 1221.3,144.5" fill="none" stroke="#0a0a0a" stroke-width="1.95" stroke-linecap="round" stroke-linejoin="round"/><path d="M1225.7,138.3 L1225.7,146.4 M1225.7,141.5 C1226.4,139.4 1227.7,138.0 1229.4,138.6 M1231.1,142.4 L1235.8,142.0 C1235.8,139.6 1234.8,138.2 1233.4,138.2 C1231.8,138.2 1230.9,140.2 1230.9,142.5 C1230.9,144.8 1232.0,146.4 1233.7,146.4 C1234.7,146.4 1235.5,145.9 1236.0,145.0 M1243.7,134.4 C1242.6,133.0 1240.1,133.3 1240.1,136.5 L1240.1,146.4 M1237.7,139.1 L1243.3,138.9" fill="none" stroke="#0a0a0a" stroke-width="1.6" stroke-linecap="round" stroke-linejoin="round"/><path d="M1255.0,128.6 C1251.3,132.3 1251.3,139.0 1254.7,142.8" fill="none" stroke="#0a0a0a" stroke-width="1.95" stroke-linecap="round" stroke-linejoin="round"/><path d="M1257.4,136.0 L1257.4,139.8 C1257.4,142.1 1259.4,143.0 1261.3,142.8 C1263.2,142.5 1264.6,141.6 1264.6,140.1 M1264.6,136.0 L1264.6,143.5 C1264.6,145.3 1262.2,146.1 1258.4,145.3" fill="none" stroke="#0a0a0a" stroke-width="1.95" stroke-linecap="round" stroke-linejoin="round"/><path d="M1267.2,138.8L1267.2,143.8" stroke="#777" stroke-width="1.3" stroke-linecap="round"/><path d="M1270.8,127.8L1270.8,143.9" stroke="#0a0a0a" stroke-width="1.95" stroke-linecap="round"/><path d="M1274.3,136.0 L1281.1,143.0 M1280.8,136.0 L1274.4,143.0" fill="none" stroke="#0a0a0a" stroke-width="1.95" stroke-linecap="round" stroke-linejoin="round"/><path d="M1284.4,128.6 C1287.9,132.3 1287.9,139.0 1284.7,142.8" fill="none" stroke="#0a0a0a" stroke-width="1.95" stroke-linecap="round" stroke-linejoin="round"/>
<path d="M1294,101.3 C1305.5,116.69 1303.5,134.64499999999998 1297.825,152.6" stroke="#0a0a0a" stroke-width="1.7" fill="none" stroke-linecap="round"/>
<path d="M1042.6,184.9L1053.2,184.9" stroke="#0a0a0a" stroke-width="1.6" stroke-linecap="round"/>
<path d="M1058.3,176.1 C1060.7,175.7 1061.5,177.1 1062.3,179.6 L1068.0,193.6 M1063.4,182.5 L1057.9,193.6" fill="none" stroke="#0a0a0a" stroke-width="1.95" stroke-linecap="round" stroke-linejoin="round"/>
<path d="M1071.8,185.0 L1071.8,193.2 M1071.8,187.6 C1072.7,185.6 1074.7,184.6 1076.0,185.4 C1076.9,186.2 1076.9,187.3 1076.9,189.2 L1076.9,193.2 M1076.9,187.6 C1077.9,185.6 1079.9,184.6 1081.1,185.4 C1082.1,186.2 1082.1,187.3 1082.1,189.2 L1082.1,193.2 M1085.3,186.2 C1086.8,184.4 1091.2,184.3 1091.3,187.3 L1091.3,192.4 L1091.8,193.2 M1091.3,188.5 C1088.4,187.7 1084.5,188.3 1084.5,190.9 C1084.5,193.3 1088.4,193.6 1091.3,192.0 M1094.1,185.0 L1101.8,193.2 M1101.5,185.0 L1094.2,193.2" fill="none" stroke="#0a0a0a" stroke-width="1.95" stroke-linecap="round" stroke-linejoin="round"/>
<path d="M1118.2,161.1 C1105.9,178.98499999999999 1107.9,196.87 1114.015,212.2" stroke="#0a0a0a" stroke-width="1.7" fill="none" stroke-linecap="round"/>
<path d="M1122.3,179.7 C1124.1,179.7 1125.6,182.7 1125.6,186.4 C1125.6,190.1 1124.1,193.1 1122.3,193.1 C1120.5,193.1 1119.0,190.1 1119.0,186.4 C1119.0,182.7 1120.5,179.7 1122.3,179.7" fill="none" stroke="#0a0a0a" stroke-width="1.95" stroke-linecap="round" stroke-linejoin="round"/>
<path d="M1130.6,192.4 L1130.2,194.7" fill="none" stroke="#0a0a0a" stroke-width="1.95" stroke-linecap="round" stroke-linejoin="round"/>
<path d="M1139.7,179.9 L1139.7,193.2 M1146.4,185.0 C1148.7,185.0 1150.5,186.8 1150.5,189.1 C1150.5,191.4 1148.7,193.2 1146.4,193.2 C1144.2,193.2 1142.4,191.4 1142.4,189.1 C1142.4,186.8 1144.2,185.0 1146.4,185.0 M1156.9,185.0 C1159.1,185.0 1160.8,186.8 1160.8,189.1 C1160.8,191.4 1159.1,193.2 1156.9,193.2 C1154.7,193.2 1153.0,191.4 1153.0,189.1 C1153.0,186.8 1154.7,185.0 1156.9,185.0 M1160.8,185.0 L1160.8,193.5 C1160.8,195.9 1157.9,196.8 1154.0,195.6" fill="none" stroke="#0a0a0a" stroke-width="1.95" stroke-linecap="round" stroke-linejoin="round"/>
<path d="M1166.4,183.8L1254.6,183.8" stroke="#0a0a0a" stroke-width="1.5" stroke-linecap="round"/>
<path d="M1171.1,170.2 C1172.0,168.2 1173.8,167.8 1176.4,168.2 C1178.7,168.7 1180.8,168.0 1182.6,167.1 M1176.4,168.2 C1176.2,172.9 1174.5,176.9 1171.8,179.2 M1180.1,168.1 C1179.9,172.9 1179.9,176.3 1180.3,179.4" fill="none" stroke="#0a0a0a" stroke-width="1.95" stroke-linecap="round" stroke-linejoin="round"/>
<path d="M1184.6,173.5 L1184.6,181.6 M1184.6,176.7 C1185.3,174.6 1186.7,173.2 1188.5,173.8 M1190.4,177.6 L1195.3,177.2 C1195.3,174.8 1194.3,173.4 1192.7,173.4 C1191.1,173.4 1190.1,175.4 1190.1,177.7 C1190.1,180.0 1191.3,181.6 1193.1,181.6 C1194.2,181.6 1195.0,181.1 1195.6,180.2 M1203.7,169.6 C1202.5,168.2 1199.9,168.5 1199.9,171.7 L1199.9,181.6 M1197.3,174.3 L1203.2,174.1" fill="none" stroke="#0a0a0a" stroke-width="1.6" stroke-linecap="round" stroke-linejoin="round"/>
<path d="M1212.9,164.0 C1209.2,167.7 1209.2,174.4 1212.6,178.2" fill="none" stroke="#0a0a0a" stroke-width="1.95" stroke-linecap="round" stroke-linejoin="round"/><path d="M1215.0,171.4 L1215.0,175.2 C1215.0,177.5 1216.7,178.4 1218.3,178.2 C1220.0,177.9 1221.1,177.0 1221.1,175.5 M1221.1,171.4 L1221.1,178.9 C1221.1,180.7 1219.1,181.5 1215.9,180.7" fill="none" stroke="#0a0a0a" stroke-width="1.95" stroke-linecap="round" stroke-linejoin="round"/><path d="M1223.8,175.7 L1224.7,179.7 L1225.6,176.8 L1226.5,179.7 L1227.3,175.7" fill="none" stroke="#444" stroke-width="1.1" stroke-linecap="round" stroke-linejoin="round"/><path d="M1231.4,163.2L1231.4,179.3" stroke="#0a0a0a" stroke-width="1.95" stroke-linecap="round"/><path d="M1235.7,171.4 L1243.1,178.4 M1242.8,171.4 L1235.8,178.4" fill="none" stroke="#0a0a0a" stroke-width="1.95" stroke-linecap="round" stroke-linejoin="round"/><path d="M1246.1,164.0 C1249.6,167.7 1249.6,174.4 1246.4,178.2" fill="none" stroke="#0a0a0a" stroke-width="1.95" stroke-linecap="round" stroke-linejoin="round"/>
<path d="M1176.7,194.5 C1177.6,192.4 1179.5,191.9 1182.1,192.4 C1184.4,192.8 1186.5,192.1 1188.4,191.2 M1182.1,192.4 C1181.8,197.4 1180.2,201.6 1177.4,204.0 M1185.8,192.2 C1185.6,197.4 1185.6,201.0 1186.1,204.2" fill="none" stroke="#0a0a0a" stroke-width="1.95" stroke-linecap="round" stroke-linejoin="round"/>
<path d="M1194.5,195.6 C1196.5,195.3 1197.8,197.8 1197.3,200.9 C1196.8,203.9 1195.3,205.7 1193.8,205.4 C1191.8,205.1 1190.8,202.6 1191.3,199.9 C1191.8,197.1 1193.0,195.6 1194.5,195.6 M1191.4,200.6 L1197.4,200.1" fill="none" stroke="#0a0a0a" stroke-width="1.6" stroke-linecap="round" stroke-linejoin="round"/>
<path d="M1205.5,188.5 C1201.8,192.2 1201.8,198.9 1205.2,202.7" fill="none" stroke="#0a0a0a" stroke-width="1.95" stroke-linecap="round" stroke-linejoin="round"/><path d="M1207.6,195.9 L1207.6,199.7 C1207.6,202.0 1209.3,202.9 1210.9,202.7 C1212.6,202.4 1213.7,201.5 1213.7,200.0 M1213.7,195.9 L1213.7,203.4 C1213.7,205.2 1211.7,206.0 1208.5,205.2" fill="none" stroke="#0a0a0a" stroke-width="1.95" stroke-linecap="round" stroke-linejoin="round"/><path d="M1216.5,200.2 L1217.3,204.2 L1218.2,201.3 L1219.1,204.2 L1220.0,200.2" fill="none" stroke="#444" stroke-width="1.1" stroke-linecap="round" stroke-linejoin="round"/><path d="M1224.0,187.7L1224.0,203.8" stroke="#0a0a0a" stroke-width="1.95" stroke-linecap="round"/><path d="M1228.3,195.9 L1235.7,202.9 M1235.4,195.9 L1228.4,202.9" fill="none" stroke="#0a0a0a" stroke-width="1.95" stroke-linecap="round" stroke-linejoin="round"/><path d="M1238.7,188.5 C1242.2,192.2 1242.2,198.9 1239.0,202.7" fill="none" stroke="#0a0a0a" stroke-width="1.95" stroke-linecap="round" stroke-linejoin="round"/>
<path d="M1254.6,161.1 C1265,176.43 1263,194.315 1257.9299999999998,212.2" stroke="#0a0a0a" stroke-width="1.7" fill="none" stroke-linecap="round"/>
<path d="M576,894 L576,876 C583,856 598,839.7 620,839.7 L730,839.7 C752,839.7 765,856 772,876 L772,894 Z" fill="#fff"/>
<path d="M606.6,858L606.6,865" stroke="#1a1a1a" stroke-width="1.5" stroke-linecap="round"/>
<path d="M606.6,876.5L606.6,880.2" stroke="#1a1a1a" stroke-width="1.5" stroke-linecap="round"/>
<circle cx="606.6" cy="870.8" r="2.4" fill="#2b7de0"/>
<path d="M612.9,855L612.9,859.6" stroke="#1a1a1a" stroke-width="1.5" stroke-linecap="round"/>
<path d="M612.9,868.2L612.9,883" stroke="#1a1a1a" stroke-width="1.5" stroke-linecap="round"/>
<circle cx="612.9" cy="864" r="2.4" fill="#e01fd0"/>
<path d="M619.4,853.4L619.4,870.8" stroke="#1a1a1a" stroke-width="1.5" stroke-linecap="round"/>
<path d="M619.4,879.6L619.4,883.8" stroke="#1a1a1a" stroke-width="1.5" stroke-linecap="round"/>
<circle cx="619.4" cy="874.9" r="2.4" fill="#22d3ee"/>
<path d="M626.1,858L626.1,865" stroke="#1a1a1a" stroke-width="1.5" stroke-linecap="round"/>
<path d="M626.1,875.2L626.1,880.2" stroke="#1a1a1a" stroke-width="1.5" stroke-linecap="round"/>
<circle cx="626.1" cy="869.8" r="2.4" fill="#c026ff"/>
<path d="M638.6,874.3 L642.7,863.9 L646.8,874.3 M640.3,870.8 L645.1,870.8" fill="none" stroke="#111" stroke-width="2.5" stroke-linecap="round" stroke-linejoin="round"/>
<path d="M652.5,864.0 L652.4,874.3 M652.5,864.2 C655.6,863.2 659.5,864.0 659.5,866.1 C659.5,867.9 656.2,868.8 653.0,869.0 C657.2,868.9 660.8,869.9 660.8,871.7 C660.8,873.9 656.9,874.6 652.4,874.3" fill="none" stroke="#111" stroke-width="2.5" stroke-linecap="round" stroke-linejoin="round"/>
<path d="M665.5,874.3 L669.8,863.9 L674.0,874.3 M667.2,870.8 L672.3,870.8" fill="none" stroke="#111" stroke-width="2.5" stroke-linecap="round" stroke-linejoin="round"/>
<path d="M687.2,866.0 C685.8,864.1 682.1,863.5 680.1,865.8 C678.2,867.9 678.6,871.2 680.4,873.1 C682.5,874.9 685.8,874.3 687.2,872.4" fill="none" stroke="#111" stroke-width="2.5" stroke-linecap="round" stroke-linejoin="round"/>
<path d="M692.5,863.9 L692.5,870.8 C692.5,873.7 695.0,874.5 696.9,874.5 C699.1,874.5 701.2,873.7 701.2,870.8 L701.2,863.9" fill="none" stroke="#111" stroke-width="2.5" stroke-linecap="round" stroke-linejoin="round"/>
<path d="M715.0,865.6 C713.7,863.7 708.2,863.5 707.6,866.0 C706.9,868.3 709.9,868.7 711.3,869.1 C714.3,869.7 716.0,871.0 715.0,872.6 C713.7,874.7 707.9,874.7 706.5,872.4" fill="none" stroke="#111" stroke-width="2.5" stroke-linecap="round" stroke-linejoin="round"/>
<path d="M718.8,874.3 L718.8,874.5" fill="none" stroke="#111" stroke-width="2.2" stroke-linecap="round" stroke-linejoin="round"/>
<path d="M725.1,874.8 L729.0,863.5 L733.0,874.8 M726.7,871.0 L731.4,871.0" fill="none" stroke="#111" stroke-width="1.5" stroke-linecap="round" stroke-linejoin="round"/>
<path d="M739.6,863.5 L739.6,874.8" fill="none" stroke="#111" stroke-width="1.5" stroke-linecap="round" stroke-linejoin="round"/>
</svg>
</body></html>
